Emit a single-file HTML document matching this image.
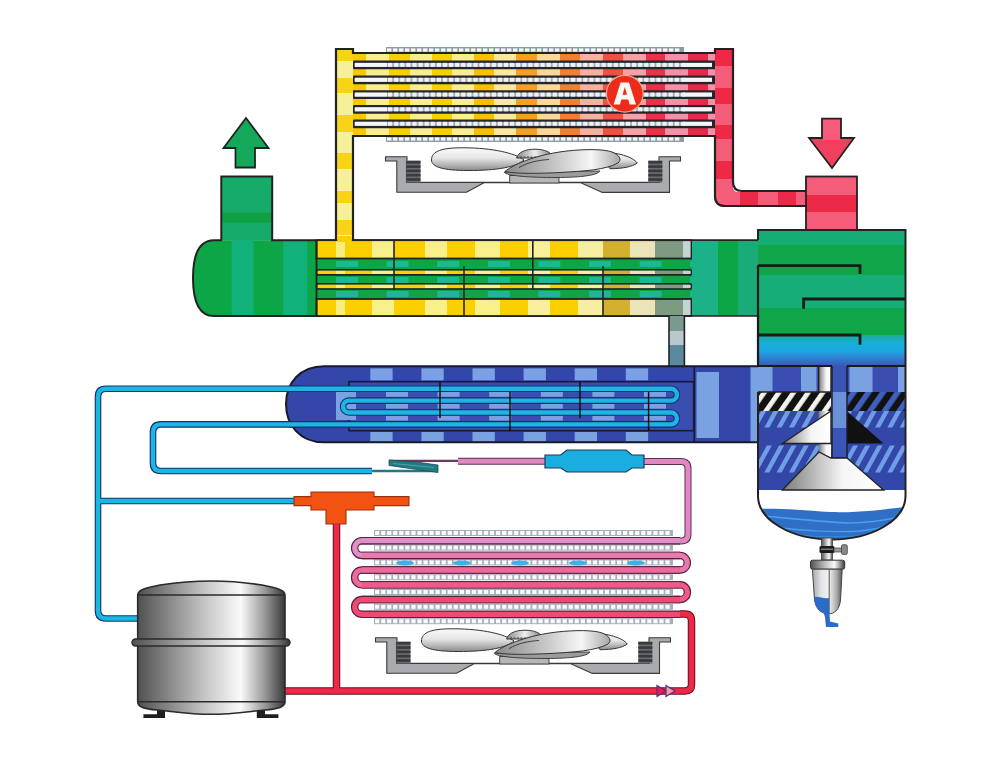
<!DOCTYPE html><html><head><meta charset="utf-8"><style>html,body{margin:0;padding:0;background:#fff;width:1000px;height:774px;overflow:hidden}svg{display:block;filter:blur(0.45px)}</style></head><body>
<svg width="1000" height="774" viewBox="0 0 1000 774">
<defs>
<linearGradient id="blade" x1="0" y1="0" x2="0" y2="1"><stop offset="0" stop-color="#fafafa"/><stop offset="0.45" stop-color="#e6e6e6"/><stop offset="1" stop-color="#8c8c8c"/></linearGradient>
<linearGradient id="blade2" x1="0" y1="0" x2="1" y2="0"><stop offset="0" stop-color="#8a8a8a"/><stop offset="0.45" stop-color="#c8c8c8"/><stop offset="0.75" stop-color="#f6f6f6"/><stop offset="1" stop-color="#a8a8a8"/></linearGradient>
<linearGradient id="hub" x1="0" y1="0" x2="1" y2="0"><stop offset="0" stop-color="#888"/><stop offset="0.5" stop-color="#eee"/><stop offset="1" stop-color="#777"/></linearGradient>
<linearGradient id="comp" x1="0" y1="0" x2="1" y2="0"><stop offset="0" stop-color="#505050"/><stop offset="0.15" stop-color="#787878"/><stop offset="0.45" stop-color="#c4c4c4"/><stop offset="0.7" stop-color="#fafafa"/><stop offset="0.86" stop-color="#9a9a9a"/><stop offset="1" stop-color="#383838"/></linearGradient>
<linearGradient id="bowl" x1="0" y1="0" x2="1" y2="0"><stop offset="0" stop-color="#a8a8ac"/><stop offset="0.3" stop-color="#e4e4e8"/><stop offset="0.55" stop-color="#f2f2f2"/><stop offset="0.8" stop-color="#b0b0b0"/><stop offset="1" stop-color="#5a5a5a"/></linearGradient>
<linearGradient id="cone" x1="0" y1="0" x2="1" y2="0"><stop offset="0" stop-color="#7a7a7a"/><stop offset="0.6" stop-color="#f6f6f6"/><stop offset="1" stop-color="#ffffff"/></linearGradient>
<linearGradient id="sepgrad" x1="0" y1="0" x2="0" y2="1"><stop offset="0" stop-color="#1ea898"/><stop offset="0.25" stop-color="#18b0d8"/><stop offset="0.5" stop-color="#1aa8e2"/><stop offset="0.75" stop-color="#3080d0"/><stop offset="1" stop-color="#3a58b6"/></linearGradient>
<pattern id="hatch" width="12" height="12" patternUnits="userSpaceOnUse" patternTransform="rotate(35)"><rect width="12" height="12" fill="#3347a8"/><rect width="4.5" height="12" fill="#6f9ee6"/></pattern>
<pattern id="hatchbw" width="12" height="12" patternUnits="userSpaceOnUse" patternTransform="translate(758 392) rotate(35)"><rect width="12" height="12" fill="#121212"/><rect x="3" width="4.8" height="12" fill="#f2f2ee"/></pattern>
<pattern id="hatchbb" width="12" height="12" patternUnits="userSpaceOnUse" patternTransform="translate(847 392) rotate(35)"><rect width="12" height="12" fill="#121212"/><rect x="3" width="5.5" height="12" fill="#4060c0"/></pattern>
</defs>
<rect x="353" y="53" width="13.4" height="83" fill="#f8c800"/>
<rect x="366" y="53" width="23.4" height="83" fill="#f8ee90"/>
<rect x="389" y="53" width="21.4" height="83" fill="#f8d000"/>
<rect x="410" y="53" width="22.4" height="83" fill="#f8ee90"/>
<rect x="432" y="53" width="20.4" height="83" fill="#f8d000"/>
<rect x="452" y="53" width="22.4" height="83" fill="#f8ee90"/>
<rect x="474" y="53" width="20.4" height="83" fill="#f8c000"/>
<rect x="494" y="53" width="22.4" height="83" fill="#fae8a0"/>
<rect x="516" y="53" width="21.4" height="83" fill="#f5a020"/>
<rect x="537" y="53" width="23.4" height="83" fill="#fcd898"/>
<rect x="560" y="53" width="20.4" height="83" fill="#f38030"/>
<rect x="580" y="53" width="23.4" height="83" fill="#f8b0a0"/>
<rect x="603" y="53" width="20.4" height="83" fill="#f05040"/>
<rect x="623" y="53" width="23.4" height="83" fill="#f8a0a8"/>
<rect x="646" y="53" width="19.4" height="83" fill="#ec3048"/>
<rect x="665" y="53" width="23.4" height="83" fill="#f590a8"/>
<rect x="688" y="53" width="20.4" height="83" fill="#e82848"/>
<rect x="708" y="53" width="7.9" height="83" fill="#f590a8"/>
<rect x="386" y="47" width="298" height="6" fill="#9098a0"/>
<rect x="387" y="48.4" width="4.4" height="3.2" fill="#f6f8fa"/>
<rect x="393" y="48.4" width="4.4" height="3.2" fill="#f6f8fa"/>
<rect x="399" y="48.4" width="4.4" height="3.2" fill="#f6f8fa"/>
<rect x="405" y="48.4" width="4.4" height="3.2" fill="#f6f8fa"/>
<rect x="411" y="48.4" width="4.4" height="3.2" fill="#f6f8fa"/>
<rect x="417" y="48.4" width="4.4" height="3.2" fill="#f6f8fa"/>
<rect x="423" y="48.4" width="4.4" height="3.2" fill="#f6f8fa"/>
<rect x="429" y="48.4" width="4.4" height="3.2" fill="#f6f8fa"/>
<rect x="435" y="48.4" width="4.4" height="3.2" fill="#f6f8fa"/>
<rect x="441" y="48.4" width="4.4" height="3.2" fill="#f6f8fa"/>
<rect x="447" y="48.4" width="4.4" height="3.2" fill="#f6f8fa"/>
<rect x="453" y="48.4" width="4.4" height="3.2" fill="#f6f8fa"/>
<rect x="459" y="48.4" width="4.4" height="3.2" fill="#f6f8fa"/>
<rect x="465" y="48.4" width="4.4" height="3.2" fill="#f6f8fa"/>
<rect x="471" y="48.4" width="4.4" height="3.2" fill="#f6f8fa"/>
<rect x="477" y="48.4" width="4.4" height="3.2" fill="#f6f8fa"/>
<rect x="483" y="48.4" width="4.4" height="3.2" fill="#f6f8fa"/>
<rect x="489" y="48.4" width="4.4" height="3.2" fill="#f6f8fa"/>
<rect x="495" y="48.4" width="4.4" height="3.2" fill="#f6f8fa"/>
<rect x="501" y="48.4" width="4.4" height="3.2" fill="#f6f8fa"/>
<rect x="507" y="48.4" width="4.4" height="3.2" fill="#f6f8fa"/>
<rect x="513" y="48.4" width="4.4" height="3.2" fill="#f6f8fa"/>
<rect x="519" y="48.4" width="4.4" height="3.2" fill="#f6f8fa"/>
<rect x="525" y="48.4" width="4.4" height="3.2" fill="#f6f8fa"/>
<rect x="531" y="48.4" width="4.4" height="3.2" fill="#f6f8fa"/>
<rect x="537" y="48.4" width="4.4" height="3.2" fill="#f6f8fa"/>
<rect x="543" y="48.4" width="4.4" height="3.2" fill="#f6f8fa"/>
<rect x="549" y="48.4" width="4.4" height="3.2" fill="#f6f8fa"/>
<rect x="555" y="48.4" width="4.4" height="3.2" fill="#f6f8fa"/>
<rect x="561" y="48.4" width="4.4" height="3.2" fill="#f6f8fa"/>
<rect x="567" y="48.4" width="4.4" height="3.2" fill="#f6f8fa"/>
<rect x="573" y="48.4" width="4.4" height="3.2" fill="#f6f8fa"/>
<rect x="579" y="48.4" width="4.4" height="3.2" fill="#f6f8fa"/>
<rect x="585" y="48.4" width="4.4" height="3.2" fill="#f6f8fa"/>
<rect x="591" y="48.4" width="4.4" height="3.2" fill="#f6f8fa"/>
<rect x="597" y="48.4" width="4.4" height="3.2" fill="#f6f8fa"/>
<rect x="603" y="48.4" width="4.4" height="3.2" fill="#f6f8fa"/>
<rect x="609" y="48.4" width="4.4" height="3.2" fill="#f6f8fa"/>
<rect x="615" y="48.4" width="4.4" height="3.2" fill="#f6f8fa"/>
<rect x="621" y="48.4" width="4.4" height="3.2" fill="#f6f8fa"/>
<rect x="627" y="48.4" width="4.4" height="3.2" fill="#f6f8fa"/>
<rect x="633" y="48.4" width="4.4" height="3.2" fill="#f6f8fa"/>
<rect x="639" y="48.4" width="4.4" height="3.2" fill="#f6f8fa"/>
<rect x="645" y="48.4" width="4.4" height="3.2" fill="#f6f8fa"/>
<rect x="651" y="48.4" width="4.4" height="3.2" fill="#f6f8fa"/>
<rect x="657" y="48.4" width="4.4" height="3.2" fill="#f6f8fa"/>
<rect x="663" y="48.4" width="4.4" height="3.2" fill="#f6f8fa"/>
<rect x="669" y="48.4" width="4.4" height="3.2" fill="#f6f8fa"/>
<rect x="675" y="48.4" width="4.4" height="3.2" fill="#f6f8fa"/>
<rect x="386" y="136" width="298" height="6" fill="#9098a0"/>
<rect x="387" y="137.4" width="4.4" height="3.2" fill="#f6f8fa"/>
<rect x="393" y="137.4" width="4.4" height="3.2" fill="#f6f8fa"/>
<rect x="399" y="137.4" width="4.4" height="3.2" fill="#f6f8fa"/>
<rect x="405" y="137.4" width="4.4" height="3.2" fill="#f6f8fa"/>
<rect x="411" y="137.4" width="4.4" height="3.2" fill="#f6f8fa"/>
<rect x="417" y="137.4" width="4.4" height="3.2" fill="#f6f8fa"/>
<rect x="423" y="137.4" width="4.4" height="3.2" fill="#f6f8fa"/>
<rect x="429" y="137.4" width="4.4" height="3.2" fill="#f6f8fa"/>
<rect x="435" y="137.4" width="4.4" height="3.2" fill="#f6f8fa"/>
<rect x="441" y="137.4" width="4.4" height="3.2" fill="#f6f8fa"/>
<rect x="447" y="137.4" width="4.4" height="3.2" fill="#f6f8fa"/>
<rect x="453" y="137.4" width="4.4" height="3.2" fill="#f6f8fa"/>
<rect x="459" y="137.4" width="4.4" height="3.2" fill="#f6f8fa"/>
<rect x="465" y="137.4" width="4.4" height="3.2" fill="#f6f8fa"/>
<rect x="471" y="137.4" width="4.4" height="3.2" fill="#f6f8fa"/>
<rect x="477" y="137.4" width="4.4" height="3.2" fill="#f6f8fa"/>
<rect x="483" y="137.4" width="4.4" height="3.2" fill="#f6f8fa"/>
<rect x="489" y="137.4" width="4.4" height="3.2" fill="#f6f8fa"/>
<rect x="495" y="137.4" width="4.4" height="3.2" fill="#f6f8fa"/>
<rect x="501" y="137.4" width="4.4" height="3.2" fill="#f6f8fa"/>
<rect x="507" y="137.4" width="4.4" height="3.2" fill="#f6f8fa"/>
<rect x="513" y="137.4" width="4.4" height="3.2" fill="#f6f8fa"/>
<rect x="519" y="137.4" width="4.4" height="3.2" fill="#f6f8fa"/>
<rect x="525" y="137.4" width="4.4" height="3.2" fill="#f6f8fa"/>
<rect x="531" y="137.4" width="4.4" height="3.2" fill="#f6f8fa"/>
<rect x="537" y="137.4" width="4.4" height="3.2" fill="#f6f8fa"/>
<rect x="543" y="137.4" width="4.4" height="3.2" fill="#f6f8fa"/>
<rect x="549" y="137.4" width="4.4" height="3.2" fill="#f6f8fa"/>
<rect x="555" y="137.4" width="4.4" height="3.2" fill="#f6f8fa"/>
<rect x="561" y="137.4" width="4.4" height="3.2" fill="#f6f8fa"/>
<rect x="567" y="137.4" width="4.4" height="3.2" fill="#f6f8fa"/>
<rect x="573" y="137.4" width="4.4" height="3.2" fill="#f6f8fa"/>
<rect x="579" y="137.4" width="4.4" height="3.2" fill="#f6f8fa"/>
<rect x="585" y="137.4" width="4.4" height="3.2" fill="#f6f8fa"/>
<rect x="591" y="137.4" width="4.4" height="3.2" fill="#f6f8fa"/>
<rect x="597" y="137.4" width="4.4" height="3.2" fill="#f6f8fa"/>
<rect x="603" y="137.4" width="4.4" height="3.2" fill="#f6f8fa"/>
<rect x="609" y="137.4" width="4.4" height="3.2" fill="#f6f8fa"/>
<rect x="615" y="137.4" width="4.4" height="3.2" fill="#f6f8fa"/>
<rect x="621" y="137.4" width="4.4" height="3.2" fill="#f6f8fa"/>
<rect x="627" y="137.4" width="4.4" height="3.2" fill="#f6f8fa"/>
<rect x="633" y="137.4" width="4.4" height="3.2" fill="#f6f8fa"/>
<rect x="639" y="137.4" width="4.4" height="3.2" fill="#f6f8fa"/>
<rect x="645" y="137.4" width="4.4" height="3.2" fill="#f6f8fa"/>
<rect x="651" y="137.4" width="4.4" height="3.2" fill="#f6f8fa"/>
<rect x="657" y="137.4" width="4.4" height="3.2" fill="#f6f8fa"/>
<rect x="663" y="137.4" width="4.4" height="3.2" fill="#f6f8fa"/>
<rect x="669" y="137.4" width="4.4" height="3.2" fill="#f6f8fa"/>
<rect x="675" y="137.4" width="4.4" height="3.2" fill="#f6f8fa"/>
<rect x="353" y="60.50000000000001" width="363" height="8.8" rx="1" fill="#26262a"/>
<rect x="354.5" y="62.900000000000006" width="357" height="4" fill="#a8b0b8"/>
<rect x="355" y="62.900000000000006" width="32" height="4" fill="#f4f6f8"/>
<rect x="388.0" y="62.900000000000006" width="4.2" height="4" fill="#eef2f6"/>
<rect x="394.1" y="62.900000000000006" width="4.2" height="4" fill="#eef2f6"/>
<rect x="400.2" y="62.900000000000006" width="4.2" height="4" fill="#eef2f6"/>
<rect x="406.3" y="62.900000000000006" width="4.2" height="4" fill="#eef2f6"/>
<rect x="412.4" y="62.900000000000006" width="4.2" height="4" fill="#eef2f6"/>
<rect x="418.5" y="62.900000000000006" width="4.2" height="4" fill="#eef2f6"/>
<rect x="424.6" y="62.900000000000006" width="4.2" height="4" fill="#eef2f6"/>
<rect x="430.7" y="62.900000000000006" width="4.2" height="4" fill="#eef2f6"/>
<rect x="436.8" y="62.900000000000006" width="4.2" height="4" fill="#eef2f6"/>
<rect x="442.9" y="62.900000000000006" width="4.2" height="4" fill="#eef2f6"/>
<rect x="449.0" y="62.900000000000006" width="4.2" height="4" fill="#eef2f6"/>
<rect x="455.1" y="62.900000000000006" width="4.2" height="4" fill="#eef2f6"/>
<rect x="461.2" y="62.900000000000006" width="4.2" height="4" fill="#eef2f6"/>
<rect x="467.3" y="62.900000000000006" width="4.2" height="4" fill="#eef2f6"/>
<rect x="473.4" y="62.900000000000006" width="4.2" height="4" fill="#eef2f6"/>
<rect x="479.5" y="62.900000000000006" width="4.2" height="4" fill="#eef2f6"/>
<rect x="485.6" y="62.900000000000006" width="4.2" height="4" fill="#eef2f6"/>
<rect x="491.7" y="62.900000000000006" width="4.2" height="4" fill="#eef2f6"/>
<rect x="497.8" y="62.900000000000006" width="4.2" height="4" fill="#eef2f6"/>
<rect x="503.9" y="62.900000000000006" width="4.2" height="4" fill="#eef2f6"/>
<rect x="510.0" y="62.900000000000006" width="4.2" height="4" fill="#eef2f6"/>
<rect x="516.1" y="62.900000000000006" width="4.2" height="4" fill="#eef2f6"/>
<rect x="522.2" y="62.900000000000006" width="4.2" height="4" fill="#eef2f6"/>
<rect x="528.3" y="62.900000000000006" width="4.2" height="4" fill="#eef2f6"/>
<rect x="534.4" y="62.900000000000006" width="4.2" height="4" fill="#eef2f6"/>
<rect x="540.5" y="62.900000000000006" width="4.2" height="4" fill="#eef2f6"/>
<rect x="546.6" y="62.900000000000006" width="4.2" height="4" fill="#eef2f6"/>
<rect x="552.7" y="62.900000000000006" width="4.2" height="4" fill="#eef2f6"/>
<rect x="558.8" y="62.900000000000006" width="4.2" height="4" fill="#eef2f6"/>
<rect x="564.9" y="62.900000000000006" width="4.2" height="4" fill="#eef2f6"/>
<rect x="571.0" y="62.900000000000006" width="4.2" height="4" fill="#eef2f6"/>
<rect x="577.1" y="62.900000000000006" width="4.2" height="4" fill="#eef2f6"/>
<rect x="583.2" y="62.900000000000006" width="4.2" height="4" fill="#eef2f6"/>
<rect x="589.3" y="62.900000000000006" width="4.2" height="4" fill="#eef2f6"/>
<rect x="595.4" y="62.900000000000006" width="4.2" height="4" fill="#eef2f6"/>
<rect x="601.5" y="62.900000000000006" width="4.2" height="4" fill="#eef2f6"/>
<rect x="607.6" y="62.900000000000006" width="4.2" height="4" fill="#eef2f6"/>
<rect x="613.7" y="62.900000000000006" width="4.2" height="4" fill="#eef2f6"/>
<rect x="619.8" y="62.900000000000006" width="4.2" height="4" fill="#eef2f6"/>
<rect x="625.9" y="62.900000000000006" width="4.2" height="4" fill="#eef2f6"/>
<rect x="632.0" y="62.900000000000006" width="4.2" height="4" fill="#eef2f6"/>
<rect x="638.1" y="62.900000000000006" width="4.2" height="4" fill="#eef2f6"/>
<rect x="644.2" y="62.900000000000006" width="4.2" height="4" fill="#eef2f6"/>
<rect x="650.3" y="62.900000000000006" width="4.2" height="4" fill="#eef2f6"/>
<rect x="656.4" y="62.900000000000006" width="4.2" height="4" fill="#eef2f6"/>
<rect x="662.5" y="62.900000000000006" width="4.2" height="4" fill="#eef2f6"/>
<rect x="668.6" y="62.900000000000006" width="4.2" height="4" fill="#eef2f6"/>
<rect x="674.7" y="62.900000000000006" width="4.2" height="4" fill="#eef2f6"/>
<rect x="680.8" y="62.900000000000006" width="4.2" height="4" fill="#eef2f6"/>
<rect x="683" y="62.900000000000006" width="29" height="4" fill="#f4f6f8"/>
<rect x="353" y="75.39999999999999" width="363" height="8.8" rx="1" fill="#26262a"/>
<rect x="354.5" y="77.8" width="357" height="4" fill="#a8b0b8"/>
<rect x="355" y="77.8" width="32" height="4" fill="#f4f6f8"/>
<rect x="388.0" y="77.8" width="4.2" height="4" fill="#eef2f6"/>
<rect x="394.1" y="77.8" width="4.2" height="4" fill="#eef2f6"/>
<rect x="400.2" y="77.8" width="4.2" height="4" fill="#eef2f6"/>
<rect x="406.3" y="77.8" width="4.2" height="4" fill="#eef2f6"/>
<rect x="412.4" y="77.8" width="4.2" height="4" fill="#eef2f6"/>
<rect x="418.5" y="77.8" width="4.2" height="4" fill="#eef2f6"/>
<rect x="424.6" y="77.8" width="4.2" height="4" fill="#eef2f6"/>
<rect x="430.7" y="77.8" width="4.2" height="4" fill="#eef2f6"/>
<rect x="436.8" y="77.8" width="4.2" height="4" fill="#eef2f6"/>
<rect x="442.9" y="77.8" width="4.2" height="4" fill="#eef2f6"/>
<rect x="449.0" y="77.8" width="4.2" height="4" fill="#eef2f6"/>
<rect x="455.1" y="77.8" width="4.2" height="4" fill="#eef2f6"/>
<rect x="461.2" y="77.8" width="4.2" height="4" fill="#eef2f6"/>
<rect x="467.3" y="77.8" width="4.2" height="4" fill="#eef2f6"/>
<rect x="473.4" y="77.8" width="4.2" height="4" fill="#eef2f6"/>
<rect x="479.5" y="77.8" width="4.2" height="4" fill="#eef2f6"/>
<rect x="485.6" y="77.8" width="4.2" height="4" fill="#eef2f6"/>
<rect x="491.7" y="77.8" width="4.2" height="4" fill="#eef2f6"/>
<rect x="497.8" y="77.8" width="4.2" height="4" fill="#eef2f6"/>
<rect x="503.9" y="77.8" width="4.2" height="4" fill="#eef2f6"/>
<rect x="510.0" y="77.8" width="4.2" height="4" fill="#eef2f6"/>
<rect x="516.1" y="77.8" width="4.2" height="4" fill="#eef2f6"/>
<rect x="522.2" y="77.8" width="4.2" height="4" fill="#eef2f6"/>
<rect x="528.3" y="77.8" width="4.2" height="4" fill="#eef2f6"/>
<rect x="534.4" y="77.8" width="4.2" height="4" fill="#eef2f6"/>
<rect x="540.5" y="77.8" width="4.2" height="4" fill="#eef2f6"/>
<rect x="546.6" y="77.8" width="4.2" height="4" fill="#eef2f6"/>
<rect x="552.7" y="77.8" width="4.2" height="4" fill="#eef2f6"/>
<rect x="558.8" y="77.8" width="4.2" height="4" fill="#eef2f6"/>
<rect x="564.9" y="77.8" width="4.2" height="4" fill="#eef2f6"/>
<rect x="571.0" y="77.8" width="4.2" height="4" fill="#eef2f6"/>
<rect x="577.1" y="77.8" width="4.2" height="4" fill="#eef2f6"/>
<rect x="583.2" y="77.8" width="4.2" height="4" fill="#eef2f6"/>
<rect x="589.3" y="77.8" width="4.2" height="4" fill="#eef2f6"/>
<rect x="595.4" y="77.8" width="4.2" height="4" fill="#eef2f6"/>
<rect x="601.5" y="77.8" width="4.2" height="4" fill="#eef2f6"/>
<rect x="607.6" y="77.8" width="4.2" height="4" fill="#eef2f6"/>
<rect x="613.7" y="77.8" width="4.2" height="4" fill="#eef2f6"/>
<rect x="619.8" y="77.8" width="4.2" height="4" fill="#eef2f6"/>
<rect x="625.9" y="77.8" width="4.2" height="4" fill="#eef2f6"/>
<rect x="632.0" y="77.8" width="4.2" height="4" fill="#eef2f6"/>
<rect x="638.1" y="77.8" width="4.2" height="4" fill="#eef2f6"/>
<rect x="644.2" y="77.8" width="4.2" height="4" fill="#eef2f6"/>
<rect x="650.3" y="77.8" width="4.2" height="4" fill="#eef2f6"/>
<rect x="656.4" y="77.8" width="4.2" height="4" fill="#eef2f6"/>
<rect x="662.5" y="77.8" width="4.2" height="4" fill="#eef2f6"/>
<rect x="668.6" y="77.8" width="4.2" height="4" fill="#eef2f6"/>
<rect x="674.7" y="77.8" width="4.2" height="4" fill="#eef2f6"/>
<rect x="680.8" y="77.8" width="4.2" height="4" fill="#eef2f6"/>
<rect x="683" y="77.8" width="29" height="4" fill="#f4f6f8"/>
<rect x="353" y="90.19999999999999" width="363" height="8.8" rx="1" fill="#26262a"/>
<rect x="354.5" y="92.6" width="357" height="4" fill="#a8b0b8"/>
<rect x="355" y="92.6" width="32" height="4" fill="#f4f6f8"/>
<rect x="388.0" y="92.6" width="4.2" height="4" fill="#eef2f6"/>
<rect x="394.1" y="92.6" width="4.2" height="4" fill="#eef2f6"/>
<rect x="400.2" y="92.6" width="4.2" height="4" fill="#eef2f6"/>
<rect x="406.3" y="92.6" width="4.2" height="4" fill="#eef2f6"/>
<rect x="412.4" y="92.6" width="4.2" height="4" fill="#eef2f6"/>
<rect x="418.5" y="92.6" width="4.2" height="4" fill="#eef2f6"/>
<rect x="424.6" y="92.6" width="4.2" height="4" fill="#eef2f6"/>
<rect x="430.7" y="92.6" width="4.2" height="4" fill="#eef2f6"/>
<rect x="436.8" y="92.6" width="4.2" height="4" fill="#eef2f6"/>
<rect x="442.9" y="92.6" width="4.2" height="4" fill="#eef2f6"/>
<rect x="449.0" y="92.6" width="4.2" height="4" fill="#eef2f6"/>
<rect x="455.1" y="92.6" width="4.2" height="4" fill="#eef2f6"/>
<rect x="461.2" y="92.6" width="4.2" height="4" fill="#eef2f6"/>
<rect x="467.3" y="92.6" width="4.2" height="4" fill="#eef2f6"/>
<rect x="473.4" y="92.6" width="4.2" height="4" fill="#eef2f6"/>
<rect x="479.5" y="92.6" width="4.2" height="4" fill="#eef2f6"/>
<rect x="485.6" y="92.6" width="4.2" height="4" fill="#eef2f6"/>
<rect x="491.7" y="92.6" width="4.2" height="4" fill="#eef2f6"/>
<rect x="497.8" y="92.6" width="4.2" height="4" fill="#eef2f6"/>
<rect x="503.9" y="92.6" width="4.2" height="4" fill="#eef2f6"/>
<rect x="510.0" y="92.6" width="4.2" height="4" fill="#eef2f6"/>
<rect x="516.1" y="92.6" width="4.2" height="4" fill="#eef2f6"/>
<rect x="522.2" y="92.6" width="4.2" height="4" fill="#eef2f6"/>
<rect x="528.3" y="92.6" width="4.2" height="4" fill="#eef2f6"/>
<rect x="534.4" y="92.6" width="4.2" height="4" fill="#eef2f6"/>
<rect x="540.5" y="92.6" width="4.2" height="4" fill="#eef2f6"/>
<rect x="546.6" y="92.6" width="4.2" height="4" fill="#eef2f6"/>
<rect x="552.7" y="92.6" width="4.2" height="4" fill="#eef2f6"/>
<rect x="558.8" y="92.6" width="4.2" height="4" fill="#eef2f6"/>
<rect x="564.9" y="92.6" width="4.2" height="4" fill="#eef2f6"/>
<rect x="571.0" y="92.6" width="4.2" height="4" fill="#eef2f6"/>
<rect x="577.1" y="92.6" width="4.2" height="4" fill="#eef2f6"/>
<rect x="583.2" y="92.6" width="4.2" height="4" fill="#eef2f6"/>
<rect x="589.3" y="92.6" width="4.2" height="4" fill="#eef2f6"/>
<rect x="595.4" y="92.6" width="4.2" height="4" fill="#eef2f6"/>
<rect x="601.5" y="92.6" width="4.2" height="4" fill="#eef2f6"/>
<rect x="607.6" y="92.6" width="4.2" height="4" fill="#eef2f6"/>
<rect x="613.7" y="92.6" width="4.2" height="4" fill="#eef2f6"/>
<rect x="619.8" y="92.6" width="4.2" height="4" fill="#eef2f6"/>
<rect x="625.9" y="92.6" width="4.2" height="4" fill="#eef2f6"/>
<rect x="632.0" y="92.6" width="4.2" height="4" fill="#eef2f6"/>
<rect x="638.1" y="92.6" width="4.2" height="4" fill="#eef2f6"/>
<rect x="644.2" y="92.6" width="4.2" height="4" fill="#eef2f6"/>
<rect x="650.3" y="92.6" width="4.2" height="4" fill="#eef2f6"/>
<rect x="656.4" y="92.6" width="4.2" height="4" fill="#eef2f6"/>
<rect x="662.5" y="92.6" width="4.2" height="4" fill="#eef2f6"/>
<rect x="668.6" y="92.6" width="4.2" height="4" fill="#eef2f6"/>
<rect x="674.7" y="92.6" width="4.2" height="4" fill="#eef2f6"/>
<rect x="680.8" y="92.6" width="4.2" height="4" fill="#eef2f6"/>
<rect x="683" y="92.6" width="29" height="4" fill="#f4f6f8"/>
<rect x="353" y="104.89999999999999" width="363" height="8.8" rx="1" fill="#26262a"/>
<rect x="354.5" y="107.3" width="357" height="4" fill="#a8b0b8"/>
<rect x="355" y="107.3" width="32" height="4" fill="#f4f6f8"/>
<rect x="388.0" y="107.3" width="4.2" height="4" fill="#eef2f6"/>
<rect x="394.1" y="107.3" width="4.2" height="4" fill="#eef2f6"/>
<rect x="400.2" y="107.3" width="4.2" height="4" fill="#eef2f6"/>
<rect x="406.3" y="107.3" width="4.2" height="4" fill="#eef2f6"/>
<rect x="412.4" y="107.3" width="4.2" height="4" fill="#eef2f6"/>
<rect x="418.5" y="107.3" width="4.2" height="4" fill="#eef2f6"/>
<rect x="424.6" y="107.3" width="4.2" height="4" fill="#eef2f6"/>
<rect x="430.7" y="107.3" width="4.2" height="4" fill="#eef2f6"/>
<rect x="436.8" y="107.3" width="4.2" height="4" fill="#eef2f6"/>
<rect x="442.9" y="107.3" width="4.2" height="4" fill="#eef2f6"/>
<rect x="449.0" y="107.3" width="4.2" height="4" fill="#eef2f6"/>
<rect x="455.1" y="107.3" width="4.2" height="4" fill="#eef2f6"/>
<rect x="461.2" y="107.3" width="4.2" height="4" fill="#eef2f6"/>
<rect x="467.3" y="107.3" width="4.2" height="4" fill="#eef2f6"/>
<rect x="473.4" y="107.3" width="4.2" height="4" fill="#eef2f6"/>
<rect x="479.5" y="107.3" width="4.2" height="4" fill="#eef2f6"/>
<rect x="485.6" y="107.3" width="4.2" height="4" fill="#eef2f6"/>
<rect x="491.7" y="107.3" width="4.2" height="4" fill="#eef2f6"/>
<rect x="497.8" y="107.3" width="4.2" height="4" fill="#eef2f6"/>
<rect x="503.9" y="107.3" width="4.2" height="4" fill="#eef2f6"/>
<rect x="510.0" y="107.3" width="4.2" height="4" fill="#eef2f6"/>
<rect x="516.1" y="107.3" width="4.2" height="4" fill="#eef2f6"/>
<rect x="522.2" y="107.3" width="4.2" height="4" fill="#eef2f6"/>
<rect x="528.3" y="107.3" width="4.2" height="4" fill="#eef2f6"/>
<rect x="534.4" y="107.3" width="4.2" height="4" fill="#eef2f6"/>
<rect x="540.5" y="107.3" width="4.2" height="4" fill="#eef2f6"/>
<rect x="546.6" y="107.3" width="4.2" height="4" fill="#eef2f6"/>
<rect x="552.7" y="107.3" width="4.2" height="4" fill="#eef2f6"/>
<rect x="558.8" y="107.3" width="4.2" height="4" fill="#eef2f6"/>
<rect x="564.9" y="107.3" width="4.2" height="4" fill="#eef2f6"/>
<rect x="571.0" y="107.3" width="4.2" height="4" fill="#eef2f6"/>
<rect x="577.1" y="107.3" width="4.2" height="4" fill="#eef2f6"/>
<rect x="583.2" y="107.3" width="4.2" height="4" fill="#eef2f6"/>
<rect x="589.3" y="107.3" width="4.2" height="4" fill="#eef2f6"/>
<rect x="595.4" y="107.3" width="4.2" height="4" fill="#eef2f6"/>
<rect x="601.5" y="107.3" width="4.2" height="4" fill="#eef2f6"/>
<rect x="607.6" y="107.3" width="4.2" height="4" fill="#eef2f6"/>
<rect x="613.7" y="107.3" width="4.2" height="4" fill="#eef2f6"/>
<rect x="619.8" y="107.3" width="4.2" height="4" fill="#eef2f6"/>
<rect x="625.9" y="107.3" width="4.2" height="4" fill="#eef2f6"/>
<rect x="632.0" y="107.3" width="4.2" height="4" fill="#eef2f6"/>
<rect x="638.1" y="107.3" width="4.2" height="4" fill="#eef2f6"/>
<rect x="644.2" y="107.3" width="4.2" height="4" fill="#eef2f6"/>
<rect x="650.3" y="107.3" width="4.2" height="4" fill="#eef2f6"/>
<rect x="656.4" y="107.3" width="4.2" height="4" fill="#eef2f6"/>
<rect x="662.5" y="107.3" width="4.2" height="4" fill="#eef2f6"/>
<rect x="668.6" y="107.3" width="4.2" height="4" fill="#eef2f6"/>
<rect x="674.7" y="107.3" width="4.2" height="4" fill="#eef2f6"/>
<rect x="680.8" y="107.3" width="4.2" height="4" fill="#eef2f6"/>
<rect x="683" y="107.3" width="29" height="4" fill="#f4f6f8"/>
<rect x="353" y="119.39999999999999" width="363" height="8.8" rx="1" fill="#26262a"/>
<rect x="354.5" y="121.8" width="357" height="4" fill="#a8b0b8"/>
<rect x="355" y="121.8" width="32" height="4" fill="#f4f6f8"/>
<rect x="388.0" y="121.8" width="4.2" height="4" fill="#eef2f6"/>
<rect x="394.1" y="121.8" width="4.2" height="4" fill="#eef2f6"/>
<rect x="400.2" y="121.8" width="4.2" height="4" fill="#eef2f6"/>
<rect x="406.3" y="121.8" width="4.2" height="4" fill="#eef2f6"/>
<rect x="412.4" y="121.8" width="4.2" height="4" fill="#eef2f6"/>
<rect x="418.5" y="121.8" width="4.2" height="4" fill="#eef2f6"/>
<rect x="424.6" y="121.8" width="4.2" height="4" fill="#eef2f6"/>
<rect x="430.7" y="121.8" width="4.2" height="4" fill="#eef2f6"/>
<rect x="436.8" y="121.8" width="4.2" height="4" fill="#eef2f6"/>
<rect x="442.9" y="121.8" width="4.2" height="4" fill="#eef2f6"/>
<rect x="449.0" y="121.8" width="4.2" height="4" fill="#eef2f6"/>
<rect x="455.1" y="121.8" width="4.2" height="4" fill="#eef2f6"/>
<rect x="461.2" y="121.8" width="4.2" height="4" fill="#eef2f6"/>
<rect x="467.3" y="121.8" width="4.2" height="4" fill="#eef2f6"/>
<rect x="473.4" y="121.8" width="4.2" height="4" fill="#eef2f6"/>
<rect x="479.5" y="121.8" width="4.2" height="4" fill="#eef2f6"/>
<rect x="485.6" y="121.8" width="4.2" height="4" fill="#eef2f6"/>
<rect x="491.7" y="121.8" width="4.2" height="4" fill="#eef2f6"/>
<rect x="497.8" y="121.8" width="4.2" height="4" fill="#eef2f6"/>
<rect x="503.9" y="121.8" width="4.2" height="4" fill="#eef2f6"/>
<rect x="510.0" y="121.8" width="4.2" height="4" fill="#eef2f6"/>
<rect x="516.1" y="121.8" width="4.2" height="4" fill="#eef2f6"/>
<rect x="522.2" y="121.8" width="4.2" height="4" fill="#eef2f6"/>
<rect x="528.3" y="121.8" width="4.2" height="4" fill="#eef2f6"/>
<rect x="534.4" y="121.8" width="4.2" height="4" fill="#eef2f6"/>
<rect x="540.5" y="121.8" width="4.2" height="4" fill="#eef2f6"/>
<rect x="546.6" y="121.8" width="4.2" height="4" fill="#eef2f6"/>
<rect x="552.7" y="121.8" width="4.2" height="4" fill="#eef2f6"/>
<rect x="558.8" y="121.8" width="4.2" height="4" fill="#eef2f6"/>
<rect x="564.9" y="121.8" width="4.2" height="4" fill="#eef2f6"/>
<rect x="571.0" y="121.8" width="4.2" height="4" fill="#eef2f6"/>
<rect x="577.1" y="121.8" width="4.2" height="4" fill="#eef2f6"/>
<rect x="583.2" y="121.8" width="4.2" height="4" fill="#eef2f6"/>
<rect x="589.3" y="121.8" width="4.2" height="4" fill="#eef2f6"/>
<rect x="595.4" y="121.8" width="4.2" height="4" fill="#eef2f6"/>
<rect x="601.5" y="121.8" width="4.2" height="4" fill="#eef2f6"/>
<rect x="607.6" y="121.8" width="4.2" height="4" fill="#eef2f6"/>
<rect x="613.7" y="121.8" width="4.2" height="4" fill="#eef2f6"/>
<rect x="619.8" y="121.8" width="4.2" height="4" fill="#eef2f6"/>
<rect x="625.9" y="121.8" width="4.2" height="4" fill="#eef2f6"/>
<rect x="632.0" y="121.8" width="4.2" height="4" fill="#eef2f6"/>
<rect x="638.1" y="121.8" width="4.2" height="4" fill="#eef2f6"/>
<rect x="644.2" y="121.8" width="4.2" height="4" fill="#eef2f6"/>
<rect x="650.3" y="121.8" width="4.2" height="4" fill="#eef2f6"/>
<rect x="656.4" y="121.8" width="4.2" height="4" fill="#eef2f6"/>
<rect x="662.5" y="121.8" width="4.2" height="4" fill="#eef2f6"/>
<rect x="668.6" y="121.8" width="4.2" height="4" fill="#eef2f6"/>
<rect x="674.7" y="121.8" width="4.2" height="4" fill="#eef2f6"/>
<rect x="680.8" y="121.8" width="4.2" height="4" fill="#eef2f6"/>
<rect x="683" y="121.8" width="29" height="4" fill="#f4f6f8"/>
<rect x="336" y="49.0" width="17" height="12.3" fill="#f8d418"/>
<rect x="336" y="61.0" width="17" height="17.3" fill="#f6f09a"/>
<rect x="336" y="78.0" width="17" height="15.3" fill="#f8d418"/>
<rect x="336" y="93.0" width="17" height="22.3" fill="#f6f09a"/>
<rect x="336" y="115.0" width="17" height="17.3" fill="#f8d418"/>
<rect x="336" y="132.0" width="17" height="21.3" fill="#f6f09a"/>
<rect x="336" y="153.0" width="17" height="16.3" fill="#f8d418"/>
<rect x="336" y="169.0" width="17" height="22.3" fill="#f6f09a"/>
<rect x="336" y="191.0" width="17" height="12.3" fill="#f8d418"/>
<rect x="336" y="203.0" width="17" height="17.3" fill="#f6f09a"/>
<rect x="336" y="220.0" width="17" height="15.3" fill="#f8d418"/>
<rect x="336" y="235.0" width="17" height="5.3" fill="#f6f09a"/>
<rect x="715" y="49.0" width="18" height="17.3" fill="#ec2a48"/>
<rect x="715" y="66.0" width="18" height="22.3" fill="#f45c7a"/>
<rect x="715" y="88.0" width="18" height="16.3" fill="#ec2a48"/>
<rect x="715" y="104.0" width="18" height="21.3" fill="#f45c7a"/>
<rect x="715" y="125.0" width="18" height="14.3" fill="#ec2a48"/>
<rect x="715" y="139.0" width="18" height="22.3" fill="#f45c7a"/>
<rect x="715" y="161.0" width="18" height="18.3" fill="#ec2a48"/>
<rect x="715" y="179.0" width="18" height="12.3" fill="#f45c7a"/>
<path d="M715 180 L715 196 Q715 206 725 206 L806 206 L806 192 L738 192 Q733 192 733 187 Z" fill="#f45c7a"/>
<rect x="740" y="192" width="18" height="14" fill="#ec2a48"/>
<rect x="778" y="192" width="18" height="14" fill="#ec2a48"/>
<path d="M336 240 L336 49 L353 49 L353 53 L715 53 L715 49 L733 49 L733 182 Q733 191 742 191 L806 191" fill="none" stroke="#222" stroke-width="2.2"/>
<path d="M353 240 L353 136 L715 136 L715 196 Q715 206 725 206 L806 206" fill="none" stroke="#222" stroke-width="2.2"/>
<circle cx="624.8" cy="93.7" r="19" fill="#f6a890"/>
<circle cx="624.8" cy="93.7" r="17.8" fill="#ee2a1a"/>
<path d="M613.6 104.5 L620.6 82.4 L629 82.4 L636 104.5 L629.6 104.5 L628.3 99.5 L621.3 99.5 L620 104.5 Z M622.6 94.8 L627 94.8 L624.8 87 Z" fill="#f8f8f0" fill-rule="evenodd"/>
<g transform="translate(0 0)">
<path d="M385.5 156.8 L407 156.8 L407 161 L406.5 161 L406.5 182.4 L659.5 182.4 L659.5 161 L659 161 L659 156.8 L680.5 156.8 L680.5 161 L669.5 161 L669.5 192.4 L602.4 192.4 L580.8 182.7 L484 182.7 L466.4 192.2 L396.8 192.2 L396.8 161 L385.5 161 Z" fill="#a9abaf" stroke="#3a3a3a" stroke-width="1.1" stroke-linejoin="round"/>
<rect x="406.5" y="160.5" width="14" height="22" fill="#6a6c70"/>
<rect x="406.5" y="161.0" width="14" height="2.6" fill="#3a3a3e"/>
<rect x="406.5" y="165.3" width="14" height="2.6" fill="#3a3a3e"/>
<rect x="406.5" y="169.6" width="14" height="2.6" fill="#3a3a3e"/>
<rect x="406.5" y="173.9" width="14" height="2.6" fill="#3a3a3e"/>
<rect x="406.5" y="178.2" width="14" height="2.6" fill="#3a3a3e"/>
<rect x="648.3" y="160.5" width="14" height="22" fill="#6a6c70"/>
<rect x="648.3" y="161.0" width="14" height="2.6" fill="#3a3a3e"/>
<rect x="648.3" y="165.3" width="14" height="2.6" fill="#3a3a3e"/>
<rect x="648.3" y="169.6" width="14" height="2.6" fill="#3a3a3e"/>
<rect x="648.3" y="173.9" width="14" height="2.6" fill="#3a3a3e"/>
<rect x="648.3" y="178.2" width="14" height="2.6" fill="#3a3a3e"/>
<rect x="509.7" y="175.5" width="49.3" height="7.5" fill="#b4b6b8" stroke="#3a3a3a" stroke-width="0.9"/>
<path d="M431.5 160 C431.5 151 442 147.5 465 147.8 C492 148 515 153 524 160 C516 167 498 170.5 468 170.5 C443 170.5 431.5 167 431.5 160 Z" fill="url(#blade)" stroke="#333" stroke-width="1"/>
<path d="M598 152 C618 152 633 157 637.3 163 C632 167 622 168.7 610 168.7 Z" fill="url(#blade)" stroke="#333" stroke-width="1"/>
<path d="M504 172 C506 176 530 177.5 556 177.5 C582 177.5 598 175 600 171 Z" fill="#9c9c9c" stroke="#333" stroke-width="0.9"/>
<path d="M516.6 158 C518 152 526 149.2 535 149.2 C544 149.2 552 152 553.4 158 Z" fill="url(#hub)" stroke="#333" stroke-width="1"/>
<path d="M520 157 L550 157" stroke="#444" stroke-width="1.2" stroke-dasharray="2 1.5"/>
<path d="M505 171.5 C515 163 540 154 567 151 C585 149 604 149 612 152 C620 155 622 160 618 163 C605 170 585 171 560 172.5 C540 173.5 515 174 505 171.5 Z" fill="url(#blade2)" stroke="#333" stroke-width="1"/>
<path d="M519 167.6 C528 162 540 160 549 159.5" fill="none" stroke="#333" stroke-width="0.9"/>
</g>
<path d="M246 118 L268.5 148 L255 148 L255 167.5 L235.5 167.5 L235.5 148 L223.5 148 Z" fill="#14a85a" stroke="#222" stroke-width="1.8" stroke-linejoin="miter"/>
<rect x="221.3" y="176.5" width="51" height="64" fill="#16ab68"/>
<rect x="221.3" y="212.7" width="51" height="10" fill="#0fa044"/>
<path d="M214 240.2 L316.5 240.2 L316.5 316 L214 316 C202 316 193 306 193 278 C193 250 202 240.2 214 240.2 Z" fill="#0ca646"/>
<rect x="231.6" y="240.2" width="22.0" height="75.8" fill="#12b07a"/>
<rect x="283.2" y="240.2" width="24.19999999999999" height="75.8" fill="#12b07a"/>
<path d="M221.3 240.2 L221.3 176.5 L272.2 176.5 L272.2 240.2 L316.5 240.2 M222 240.2 L214 240.2 C202 240.2 193 250 193 278 C193 306 202 316 214 316 L670 316" fill="none" stroke="#222" stroke-width="2"/>
<rect x="316.5" y="240" width="441.5" height="76" fill="#0ca646"/>
<rect x="336.0" y="261.0" width="22" height="6" fill="#1ab898"/>
<rect x="336.0" y="277.0" width="22" height="6" fill="#1ab898"/>
<rect x="336.0" y="291.0" width="22" height="6" fill="#1ab898"/>
<rect x="386.6" y="261.0" width="22" height="6" fill="#1ab898"/>
<rect x="386.6" y="277.0" width="22" height="6" fill="#1ab898"/>
<rect x="386.6" y="291.0" width="22" height="6" fill="#1ab898"/>
<rect x="437.2" y="261.0" width="22" height="6" fill="#1ab898"/>
<rect x="437.2" y="277.0" width="22" height="6" fill="#1ab898"/>
<rect x="437.2" y="291.0" width="22" height="6" fill="#1ab898"/>
<rect x="487.8" y="261.0" width="22" height="6" fill="#1ab898"/>
<rect x="487.8" y="277.0" width="22" height="6" fill="#1ab898"/>
<rect x="487.8" y="291.0" width="22" height="6" fill="#1ab898"/>
<rect x="538.4" y="261.0" width="22" height="6" fill="#1ab898"/>
<rect x="538.4" y="277.0" width="22" height="6" fill="#1ab898"/>
<rect x="538.4" y="291.0" width="22" height="6" fill="#1ab898"/>
<rect x="589.0" y="261.0" width="22" height="6" fill="#1ab898"/>
<rect x="589.0" y="277.0" width="22" height="6" fill="#1ab898"/>
<rect x="589.0" y="291.0" width="22" height="6" fill="#1ab898"/>
<rect x="639.6" y="261.0" width="22" height="6" fill="#1ab898"/>
<rect x="639.6" y="277.0" width="22" height="6" fill="#1ab898"/>
<rect x="639.6" y="291.0" width="22" height="6" fill="#1ab898"/>
<rect x="690.2" y="261.0" width="22" height="6" fill="#1ab898"/>
<rect x="690.2" y="277.0" width="22" height="6" fill="#1ab898"/>
<rect x="690.2" y="291.0" width="22" height="6" fill="#1ab898"/>
<rect x="316.5" y="240.2" width="19.9" height="18.30000000000001" fill="#fcd000"/>
<rect x="336" y="240.2" width="9.4" height="18.30000000000001" fill="#f8ee80"/>
<rect x="345" y="240.2" width="27.4" height="18.30000000000001" fill="#fcd000"/>
<rect x="372" y="240.2" width="22.4" height="18.30000000000001" fill="#f8f08a"/>
<rect x="394" y="240.2" width="31.4" height="18.30000000000001" fill="#fcd000"/>
<rect x="425" y="240.2" width="22.4" height="18.30000000000001" fill="#f8f08a"/>
<rect x="447" y="240.2" width="28.4" height="18.30000000000001" fill="#fcd000"/>
<rect x="475" y="240.2" width="25.4" height="18.30000000000001" fill="#f8f08a"/>
<rect x="500" y="240.2" width="28.4" height="18.30000000000001" fill="#fcd000"/>
<rect x="528" y="240.2" width="22.4" height="18.30000000000001" fill="#f8f09a"/>
<rect x="550" y="240.2" width="28.4" height="18.30000000000001" fill="#fcd000"/>
<rect x="578" y="240.2" width="25.4" height="18.30000000000001" fill="#f6eea0"/>
<rect x="603" y="240.2" width="27.4" height="18.30000000000001" fill="#d4b030"/>
<rect x="630" y="240.2" width="25.4" height="18.30000000000001" fill="#ece4b8"/>
<rect x="655" y="240.2" width="28.4" height="18.30000000000001" fill="#7e9a80"/>
<rect x="683" y="240.2" width="8.9" height="18.30000000000001" fill="#c4d4d4"/>
<rect x="316.5" y="240.2" width="375.0" height="18.30000000000001" fill="none" stroke="#222" stroke-width="1.8"/>
<rect x="316.5" y="299" width="19.9" height="17" fill="#fcd000"/>
<rect x="336" y="299" width="9.4" height="17" fill="#f8ee80"/>
<rect x="345" y="299" width="27.4" height="17" fill="#fcd000"/>
<rect x="372" y="299" width="22.4" height="17" fill="#f8f08a"/>
<rect x="394" y="299" width="31.4" height="17" fill="#fcd000"/>
<rect x="425" y="299" width="22.4" height="17" fill="#f8f08a"/>
<rect x="447" y="299" width="28.4" height="17" fill="#fcd000"/>
<rect x="475" y="299" width="25.4" height="17" fill="#f8f08a"/>
<rect x="500" y="299" width="28.4" height="17" fill="#fcd000"/>
<rect x="528" y="299" width="22.4" height="17" fill="#f8f09a"/>
<rect x="550" y="299" width="28.4" height="17" fill="#fcd000"/>
<rect x="578" y="299" width="25.4" height="17" fill="#f6eea0"/>
<rect x="603" y="299" width="27.4" height="17" fill="#d4b030"/>
<rect x="630" y="299" width="25.4" height="17" fill="#ece4b8"/>
<rect x="655" y="299" width="28.4" height="17" fill="#7e9a80"/>
<rect x="683" y="299" width="8.9" height="17" fill="#c4d4d4"/>
<rect x="316.5" y="299" width="375.0" height="17" fill="none" stroke="#222" stroke-width="1.8"/>
<rect x="316.5" y="270.3" width="19.9" height="4" fill="#fcd000"/>
<rect x="336" y="270.3" width="9.4" height="4" fill="#f8ee80"/>
<rect x="345" y="270.3" width="27.4" height="4" fill="#fcd000"/>
<rect x="372" y="270.3" width="22.4" height="4" fill="#f8f08a"/>
<rect x="394" y="270.3" width="31.4" height="4" fill="#fcd000"/>
<rect x="425" y="270.3" width="22.4" height="4" fill="#f8f08a"/>
<rect x="447" y="270.3" width="28.4" height="4" fill="#fcd000"/>
<rect x="475" y="270.3" width="25.4" height="4" fill="#f8f08a"/>
<rect x="500" y="270.3" width="28.4" height="4" fill="#fcd000"/>
<rect x="528" y="270.3" width="22.4" height="4" fill="#f8f09a"/>
<rect x="550" y="270.3" width="28.4" height="4" fill="#fcd000"/>
<rect x="578" y="270.3" width="25.4" height="4" fill="#f6eea0"/>
<rect x="603" y="270.3" width="27.4" height="4" fill="#d4b030"/>
<rect x="630" y="270.3" width="25.4" height="4" fill="#ece4b8"/>
<rect x="655" y="270.3" width="28.4" height="4" fill="#7e9a80"/>
<rect x="683" y="270.3" width="8.9" height="4" fill="#c4d4d4"/>
<rect x="316.5" y="269.7" width="375.0" height="5.2" rx="2" fill="none" stroke="#222" stroke-width="1.6"/>
<rect x="316.5" y="284.4" width="19.9" height="4" fill="#fcd000"/>
<rect x="336" y="284.4" width="9.4" height="4" fill="#f8ee80"/>
<rect x="345" y="284.4" width="27.4" height="4" fill="#fcd000"/>
<rect x="372" y="284.4" width="22.4" height="4" fill="#f8f08a"/>
<rect x="394" y="284.4" width="31.4" height="4" fill="#fcd000"/>
<rect x="425" y="284.4" width="22.4" height="4" fill="#f8f08a"/>
<rect x="447" y="284.4" width="28.4" height="4" fill="#fcd000"/>
<rect x="475" y="284.4" width="25.4" height="4" fill="#f8f08a"/>
<rect x="500" y="284.4" width="28.4" height="4" fill="#fcd000"/>
<rect x="528" y="284.4" width="22.4" height="4" fill="#f8f09a"/>
<rect x="550" y="284.4" width="28.4" height="4" fill="#fcd000"/>
<rect x="578" y="284.4" width="25.4" height="4" fill="#f6eea0"/>
<rect x="603" y="284.4" width="27.4" height="4" fill="#d4b030"/>
<rect x="630" y="284.4" width="25.4" height="4" fill="#ece4b8"/>
<rect x="655" y="284.4" width="28.4" height="4" fill="#7e9a80"/>
<rect x="683" y="284.4" width="8.9" height="4" fill="#c4d4d4"/>
<rect x="316.5" y="283.79999999999995" width="375.0" height="5.2" rx="2" fill="none" stroke="#222" stroke-width="1.6"/>
<line x1="394" y1="240" x2="394" y2="290" stroke="#222" stroke-width="1.6"/>
<line x1="464" y1="266" x2="464" y2="316" stroke="#222" stroke-width="1.6"/>
<line x1="532.8" y1="240" x2="532.8" y2="289" stroke="#222" stroke-width="1.6"/>
<line x1="603" y1="266" x2="603" y2="316" stroke="#222" stroke-width="1.6"/>
<rect x="692" y="240.4" width="26" height="75.6" fill="#1bb28a"/>
<rect x="718" y="240.4" width="20" height="75.6" fill="#0ca646"/>
<rect x="738" y="240.4" width="20" height="75.6" fill="#1aab78"/>
<rect x="337.2" y="236" width="14.6" height="6" fill="#f8d200"/>
<path d="M316.5 240.2 L336 240.2 M353 240.2 L758 240.2 M316.5 240.2 L316.5 316" stroke="#222" stroke-width="1.8" fill="none"/>
<rect x="669" y="316" width="15.4" height="50" fill="#7a9a90"/>
<rect x="669" y="331" width="15.4" height="14" fill="#b8c8cc"/>
<rect x="669" y="345" width="15.4" height="21" fill="#5a8aa0"/>
<path d="M669 316 L669 366 M684.4 316 L684.4 366 M684.4 316 L758 316" stroke="#222" stroke-width="1.6" fill="none"/>
<path d="M832 168 L809 138 L822 138 L822 118.6 L841 118.6 L841 138 L854 138 Z" fill="#f0405e"/>
<path d="M822 118.6 L841 118.6 L841 140 L822 140 Z" fill="#f45c7a"/>
<path d="M832 168 L809 138 L822 138 L822 118.6 L841 118.6 L841 138 L854 138 Z" fill="none" stroke="#222" stroke-width="1.8"/>
<rect x="806" y="176.5" width="51" height="53.5" fill="#f45c7a"/>
<rect x="806" y="195" width="51" height="17" fill="#ec2a48"/>
<rect x="806" y="176.5" width="51" height="53.5" fill="none" stroke="#222" stroke-width="1.8"/>
<path d="M324 366.3 L758 366.3 L758 442.3 L324 442.3 C300 442.3 286 425 286 404.3 C286 383 300 366.3 324 366.3 Z" fill="#3347a8"/>
<rect x="370.3" y="368.4" width="22.3" height="12" fill="#7aa2e2"/>
<rect x="370.3" y="432" width="22.3" height="9.5" fill="#7aa2e2"/>
<rect x="421.4" y="368.4" width="22.3" height="12" fill="#7aa2e2"/>
<rect x="421.4" y="432" width="22.3" height="9.5" fill="#7aa2e2"/>
<rect x="472.5" y="368.4" width="22.3" height="12" fill="#7aa2e2"/>
<rect x="472.5" y="432" width="22.3" height="9.5" fill="#7aa2e2"/>
<rect x="523.6" y="368.4" width="22.3" height="12" fill="#7aa2e2"/>
<rect x="523.6" y="432" width="22.3" height="9.5" fill="#7aa2e2"/>
<rect x="574.7" y="368.4" width="22.3" height="12" fill="#7aa2e2"/>
<rect x="574.7" y="432" width="22.3" height="9.5" fill="#7aa2e2"/>
<rect x="625.8" y="368.4" width="22.3" height="12" fill="#7aa2e2"/>
<rect x="625.8" y="432" width="22.3" height="9.5" fill="#7aa2e2"/>
<rect x="349" y="381.7" width="344.7" height="49" fill="#3a4db0" stroke="#1a1a2a" stroke-width="1.6"/>
<rect x="336" y="392" width="20" height="28" fill="#7aa2e2"/>
<rect x="386.0" y="391.8" width="22" height="5" fill="#7aa2e2"/>
<rect x="386.0" y="403.7" width="22" height="5" fill="#7aa2e2"/>
<rect x="386.0" y="415.6" width="22" height="5" fill="#7aa2e2"/>
<rect x="437.6" y="391.8" width="22" height="5" fill="#7aa2e2"/>
<rect x="437.6" y="403.7" width="22" height="5" fill="#7aa2e2"/>
<rect x="437.6" y="415.6" width="22" height="5" fill="#7aa2e2"/>
<rect x="489.2" y="391.8" width="22" height="5" fill="#7aa2e2"/>
<rect x="489.2" y="403.7" width="22" height="5" fill="#7aa2e2"/>
<rect x="489.2" y="415.6" width="22" height="5" fill="#7aa2e2"/>
<rect x="540.8" y="391.8" width="22" height="5" fill="#7aa2e2"/>
<rect x="540.8" y="403.7" width="22" height="5" fill="#7aa2e2"/>
<rect x="540.8" y="415.6" width="22" height="5" fill="#7aa2e2"/>
<rect x="592.4" y="391.8" width="22" height="5" fill="#7aa2e2"/>
<rect x="592.4" y="403.7" width="22" height="5" fill="#7aa2e2"/>
<rect x="592.4" y="415.6" width="22" height="5" fill="#7aa2e2"/>
<rect x="644.0" y="391.8" width="22" height="5" fill="#7aa2e2"/>
<rect x="644.0" y="403.7" width="22" height="5" fill="#7aa2e2"/>
<rect x="644.0" y="415.6" width="22" height="5" fill="#7aa2e2"/>
<rect x="696.5" y="372" width="22.5" height="66" fill="#7aa2e2"/>
<rect x="750.5" y="366.3" width="8" height="76" fill="#7aa2e2"/>
<path d="M290 388.7 L671 388.7 A5.95 5.95 0 0 1 671 400.6 L349 400.6 A5.95 5.95 0 0 0 349 412.5 L671 412.5 A5.95 5.95 0 0 1 671 424.4 L290 424.4" fill="none" stroke="#16306a" stroke-width="6.6"/>
<path d="M290 388.7 L671 388.7 A5.95 5.95 0 0 1 671 400.6 L349 400.6 A5.95 5.95 0 0 0 349 412.5 L671 412.5 A5.95 5.95 0 0 1 671 424.4 L290 424.4" fill="none" stroke="#1ab6e4" stroke-width="4.4"/>
<line x1="440" y1="381.7" x2="440" y2="418" stroke="#111" stroke-width="1.5"/>
<line x1="510" y1="392" x2="510" y2="430.7" stroke="#111" stroke-width="1.5"/>
<line x1="580" y1="381.7" x2="580" y2="418" stroke="#111" stroke-width="1.5"/>
<line x1="648.6" y1="392" x2="648.6" y2="430.7" stroke="#111" stroke-width="1.5"/>
<path d="M324 366.3 L758 366.3 M758 442.3 L324 442.3 C300 442.3 286 425 286 404.3 C286 383 300 366.3 324 366.3" fill="none" stroke="#1a1a2a" stroke-width="2"/>
<path d="M694.3 366.3 L694.3 442.3" stroke="#1a1a2a" stroke-width="1.6"/>
<rect x="758" y="230" width="147.5" height="105" fill="#17a860"/>
<rect x="758" y="230" width="147.5" height="15" fill="#16ad74"/>
<rect x="758" y="245" width="147.5" height="30" fill="#0fa64a"/>
<rect x="758" y="275" width="147.5" height="33" fill="#16ae76"/>
<rect x="758" y="308" width="147.5" height="27" fill="#0fa64a"/>
<rect x="758" y="335" width="147.5" height="31" fill="url(#sepgrad)"/>
<path d="M758 265.6 L860 265.6 L860 274 M905.5 299 L803.6 299 L803.6 308.8 M758 335 L860 335 L860 344.8" fill="none" stroke="#1a1a1a" stroke-width="2.8"/>
<path d="M758 366 L905.5 366 L905.5 496 A73.75 43.5 0 0 1 758 496 Z" fill="#ffffff"/>
<rect x="758" y="366" width="147.5" height="124" fill="#3347a8"/>
<clipPath id="sepclip"><rect x="758" y="366" width="147.5" height="124"/></clipPath>
<g clip-path="url(#sepclip)">
<path d="M752.0 427.5 L757.0 427.5 L766.1 411 L761.1 411 Z" fill="#6f9ee6"/>
<path d="M764.3 427.5 L769.3 427.5 L778.4 411 L773.4 411 Z" fill="#6f9ee6"/>
<path d="M776.6 427.5 L781.6 427.5 L790.7 411 L785.7 411 Z" fill="#6f9ee6"/>
<path d="M788.9 427.5 L793.9 427.5 L803.0 411 L798.0 411 Z" fill="#6f9ee6"/>
<path d="M801.2 427.5 L806.2 427.5 L815.3 411 L810.3 411 Z" fill="#6f9ee6"/>
<path d="M813.5 427.5 L818.5 427.5 L827.6 411 L822.6 411 Z" fill="#6f9ee6"/>
<path d="M825.8 427.5 L830.8 427.5 L839.9 411 L834.9 411 Z" fill="#6f9ee6"/>
<path d="M838.1 427.5 L843.1 427.5 L852.2 411 L847.2 411 Z" fill="#6f9ee6"/>
<path d="M850.4 427.5 L855.4 427.5 L864.5 411 L859.5 411 Z" fill="#6f9ee6"/>
<path d="M862.7 427.5 L867.7 427.5 L876.8 411 L871.8 411 Z" fill="#6f9ee6"/>
<path d="M875.0 427.5 L880.0 427.5 L889.1 411 L884.1 411 Z" fill="#6f9ee6"/>
<path d="M887.3 427.5 L892.3 427.5 L901.4 411 L896.4 411 Z" fill="#6f9ee6"/>
<path d="M899.6 427.5 L904.6 427.5 L913.7 411 L908.7 411 Z" fill="#6f9ee6"/>
<path d="M911.9 427.5 L916.9 427.5 L926.0 411 L921.0 411 Z" fill="#6f9ee6"/>
<path d="M752.0 472.5 L757.0 472.5 L771.9 445.5 L766.9 445.5 Z" fill="#6f9ee6"/>
<path d="M764.3 472.5 L769.3 472.5 L784.1 445.5 L779.1 445.5 Z" fill="#6f9ee6"/>
<path d="M776.6 472.5 L781.6 472.5 L796.5 445.5 L791.5 445.5 Z" fill="#6f9ee6"/>
<path d="M788.9 472.5 L793.9 472.5 L808.8 445.5 L803.8 445.5 Z" fill="#6f9ee6"/>
<path d="M801.2 472.5 L806.2 472.5 L821.1 445.5 L816.1 445.5 Z" fill="#6f9ee6"/>
<path d="M813.5 472.5 L818.5 472.5 L833.4 445.5 L828.4 445.5 Z" fill="#6f9ee6"/>
<path d="M825.8 472.5 L830.8 472.5 L845.6 445.5 L840.6 445.5 Z" fill="#6f9ee6"/>
<path d="M838.1 472.5 L843.1 472.5 L858.0 445.5 L853.0 445.5 Z" fill="#6f9ee6"/>
<path d="M850.4 472.5 L855.4 472.5 L870.2 445.5 L865.2 445.5 Z" fill="#6f9ee6"/>
<path d="M862.7 472.5 L867.7 472.5 L882.6 445.5 L877.6 445.5 Z" fill="#6f9ee6"/>
<path d="M875.0 472.5 L880.0 472.5 L894.9 445.5 L889.9 445.5 Z" fill="#6f9ee6"/>
<path d="M887.3 472.5 L892.3 472.5 L907.1 445.5 L902.1 445.5 Z" fill="#6f9ee6"/>
<path d="M899.6 472.5 L904.6 472.5 L919.5 445.5 L914.5 445.5 Z" fill="#6f9ee6"/>
<path d="M911.9 472.5 L916.9 472.5 L931.8 445.5 L926.8 445.5 Z" fill="#6f9ee6"/>
</g>
<rect x="758" y="366" width="147.5" height="26" fill="#3a4db0"/>
<rect x="758" y="366" width="14.5" height="26" fill="#7aa2e2"/>
<rect x="801" y="366" width="15.5" height="26" fill="#7aa2e2"/>
<rect x="849.5" y="366" width="23" height="26" fill="#7aa2e2"/>
<rect x="898" y="366" width="7.5" height="26" fill="#7aa2e2"/>
<rect x="847" y="392" width="58.5" height="19" fill="url(#hatchbb)"/>
<rect x="818.7" y="366" width="12.5" height="92" fill="url(#cone)"/>
<rect x="758" y="392" width="73" height="19" fill="url(#hatchbw)"/>
<rect x="832" y="366" width="15" height="92" fill="#3a55b8"/>
<rect x="832" y="392" width="15" height="36" fill="#6a90d8"/>
<path d="M832 366 L832 458 L847 458 L847 366" fill="none" stroke="#1a1a2a" stroke-width="1.4"/>
<path d="M782.4 443.5 L831 411 L831 443.5 Z" fill="url(#cone)" stroke="#222" stroke-width="1.3"/>
<path d="M847.3 411.5 L847.3 443.6 L883.6 443.6 Z" fill="#111"/>
<path d="M782.4 490 L819 452 L831 458 L847 458 L883.6 490 Z" fill="url(#cone)" stroke="#222" stroke-width="1.3"/>
<clipPath id="vesclip"><path d="M758 366 L905.5 366 L905.5 496 A73.75 43.5 0 0 1 758 496 Z"/></clipPath>
<g clip-path="url(#vesclip)">
<path d="M750 509 C780 508 800 510 830 512 C860 513 885 509 915 506 L915 560 L750 560 Z" fill="#2f6fc6"/>
<path d="M762 516 C790 518 820 522 850 523 C875 523 890 519 905 516" fill="none" stroke="#48a0e8" stroke-width="1.6"/>
<path d="M770 527 C800 530 830 533 860 531 C880 529 890 526 900 524" fill="none" stroke="#48a0e8" stroke-width="1.4"/>
<path d="M790 534 C815 537 840 538 870 535" fill="none" stroke="#3a88d8" stroke-width="1.2"/>
</g>
<path d="M758 392 L758 496 A73.75 43.5 0 0 0 905.5 496 L905.5 230 L758 230 L758 240" fill="none" stroke="#222" stroke-width="2"/>
<path d="M758 265.6 L758 366 L832 366 M847 366 L905.5 366" fill="none" stroke="#1a1a1a" stroke-width="2.2"/>
<path d="M818.7 366 L818.7 392 M831 366 L831 392 M758 392 L831 392" fill="none" stroke="#222" stroke-width="1.4"/>
<path d="M300 388.7 L106 388.7 Q98 388.7 98 396.7 L98 610.5 Q98 618.5 106 618.5 L138 618.5 M300 424.4 L161 424.4 Q153 424.4 153 432.4 L153 463 Q153 471 161 471 L372 471 M98 501 L294 501" fill="none" stroke="#16306a" stroke-width="6.6"/>
<path d="M300 388.7 L106 388.7 Q98 388.7 98 396.7 L98 610.5 Q98 618.5 106 618.5 L138 618.5 M300 424.4 L161 424.4 Q153 424.4 153 432.4 L153 463 Q153 471 161 471 L372 471 M98 501 L294 501" fill="none" stroke="#1ab6e4" stroke-width="4.4"/>
<path d="M389 460.8 L459 460.8" stroke="#6a3a60" stroke-width="2.2"/>
<path d="M372 471 L438 471" stroke="#247880" stroke-width="2.6"/>
<path d="M389 460 L389 465.5 L438 472.5 L438 465 L420 462.5 Z" fill="#247a80" stroke="#1a5058" stroke-width="0.8"/>
<path d="M393 463.5 L434 467.5" stroke="#40a8b0" stroke-width="1"/>
<path d="M458 461.3 L545 461.3" stroke="#5a3050" stroke-width="7"/>
<path d="M458 461.3 L545 461.3" stroke="#e088c0" stroke-width="5"/>
<path d="M545 461.5 L681 461.5 Q688 461.5 688 468.5 L688 534 Q688 541 681 541 L360 541" fill="none" stroke="#5a3050" stroke-width="7"/>
<path d="M545 461.5 L681 461.5 Q688 461.5 688 468.5 L688 534 Q688 541 681 541 L360 541" fill="none" stroke="#e088c0" stroke-width="5"/>
<path d="M545 455 L560.7 455 L567 450 L626 450 L632 455 L644 455 L644 468 L632 468 L626 472 L567 472 L560.7 468 L545 468 Z" fill="#1aaee0" stroke="#1a3a5a" stroke-width="1.2"/>
<path d="M294 496.6 L311 496.6 L311 492 L374 492 L374 496.6 L409 496.6 L409 505.6 L374 505.6 L374 510 L346 510 L346 524 L326 524 L326 510 L311 510 L311 505.6 L294 505.6 Z" fill="#f25212" stroke="#9a3010" stroke-width="1.1"/>
<path d="M336.5 524 L336.5 691 M285 691 L685 691 Q691.5 691 691.5 684.5 L691.5 621 Q691.5 614 685 614 L680 614" fill="none" stroke="#5a1020" stroke-width="7.5"/>
<path d="M336.5 524 L336.5 691 M285 691 L685 691 Q691.5 691 691.5 684.5 L691.5 621 Q691.5 614 685 614 L680 614" fill="none" stroke="#f02848" stroke-width="5.5"/>
<path d="M657 685.5 L666 691 L657 696.5 Z" fill="#e82040" stroke="#5a2a90" stroke-width="1.2"/>
<path d="M666 685.5 L675 691 L666 696.5 Z" fill="#f0a0a0" stroke="#5a2a90" stroke-width="1.2"/>
<rect x="374" y="530" width="299" height="6" fill="#a8aeb6"/>
<rect x="375.0" y="531" width="4.3" height="4" fill="#f8fafc"/>
<rect x="381.1" y="531" width="4.3" height="4" fill="#f8fafc"/>
<rect x="387.1" y="531" width="4.3" height="4" fill="#f8fafc"/>
<rect x="393.1" y="531" width="4.3" height="4" fill="#f8fafc"/>
<rect x="399.2" y="531" width="4.3" height="4" fill="#f8fafc"/>
<rect x="405.2" y="531" width="4.3" height="4" fill="#f8fafc"/>
<rect x="411.3" y="531" width="4.3" height="4" fill="#f8fafc"/>
<rect x="417.4" y="531" width="4.3" height="4" fill="#f8fafc"/>
<rect x="423.4" y="531" width="4.3" height="4" fill="#f8fafc"/>
<rect x="429.4" y="531" width="4.3" height="4" fill="#f8fafc"/>
<rect x="435.5" y="531" width="4.3" height="4" fill="#f8fafc"/>
<rect x="441.6" y="531" width="4.3" height="4" fill="#f8fafc"/>
<rect x="447.6" y="531" width="4.3" height="4" fill="#f8fafc"/>
<rect x="453.6" y="531" width="4.3" height="4" fill="#f8fafc"/>
<rect x="459.7" y="531" width="4.3" height="4" fill="#f8fafc"/>
<rect x="465.8" y="531" width="4.3" height="4" fill="#f8fafc"/>
<rect x="471.8" y="531" width="4.3" height="4" fill="#f8fafc"/>
<rect x="477.9" y="531" width="4.3" height="4" fill="#f8fafc"/>
<rect x="483.9" y="531" width="4.3" height="4" fill="#f8fafc"/>
<rect x="489.9" y="531" width="4.3" height="4" fill="#f8fafc"/>
<rect x="496.0" y="531" width="4.3" height="4" fill="#f8fafc"/>
<rect x="502.1" y="531" width="4.3" height="4" fill="#f8fafc"/>
<rect x="508.1" y="531" width="4.3" height="4" fill="#f8fafc"/>
<rect x="514.1" y="531" width="4.3" height="4" fill="#f8fafc"/>
<rect x="520.2" y="531" width="4.3" height="4" fill="#f8fafc"/>
<rect x="526.2" y="531" width="4.3" height="4" fill="#f8fafc"/>
<rect x="532.3" y="531" width="4.3" height="4" fill="#f8fafc"/>
<rect x="538.4" y="531" width="4.3" height="4" fill="#f8fafc"/>
<rect x="544.4" y="531" width="4.3" height="4" fill="#f8fafc"/>
<rect x="550.5" y="531" width="4.3" height="4" fill="#f8fafc"/>
<rect x="556.5" y="531" width="4.3" height="4" fill="#f8fafc"/>
<rect x="562.5" y="531" width="4.3" height="4" fill="#f8fafc"/>
<rect x="568.6" y="531" width="4.3" height="4" fill="#f8fafc"/>
<rect x="574.6" y="531" width="4.3" height="4" fill="#f8fafc"/>
<rect x="580.7" y="531" width="4.3" height="4" fill="#f8fafc"/>
<rect x="586.8" y="531" width="4.3" height="4" fill="#f8fafc"/>
<rect x="592.8" y="531" width="4.3" height="4" fill="#f8fafc"/>
<rect x="598.9" y="531" width="4.3" height="4" fill="#f8fafc"/>
<rect x="604.9" y="531" width="4.3" height="4" fill="#f8fafc"/>
<rect x="611.0" y="531" width="4.3" height="4" fill="#f8fafc"/>
<rect x="617.0" y="531" width="4.3" height="4" fill="#f8fafc"/>
<rect x="623.0" y="531" width="4.3" height="4" fill="#f8fafc"/>
<rect x="629.1" y="531" width="4.3" height="4" fill="#f8fafc"/>
<rect x="635.1" y="531" width="4.3" height="4" fill="#f8fafc"/>
<rect x="641.2" y="531" width="4.3" height="4" fill="#f8fafc"/>
<rect x="647.2" y="531" width="4.3" height="4" fill="#f8fafc"/>
<rect x="653.3" y="531" width="4.3" height="4" fill="#f8fafc"/>
<rect x="659.3" y="531" width="4.3" height="4" fill="#f8fafc"/>
<rect x="665.4" y="531" width="4.3" height="4" fill="#f8fafc"/>
<rect x="374" y="544.6" width="299" height="6" fill="#a8aeb6"/>
<rect x="375.0" y="545.6" width="4.3" height="4" fill="#f8fafc"/>
<rect x="381.1" y="545.6" width="4.3" height="4" fill="#f8fafc"/>
<rect x="387.1" y="545.6" width="4.3" height="4" fill="#f8fafc"/>
<rect x="393.1" y="545.6" width="4.3" height="4" fill="#f8fafc"/>
<rect x="399.2" y="545.6" width="4.3" height="4" fill="#f8fafc"/>
<rect x="405.2" y="545.6" width="4.3" height="4" fill="#f8fafc"/>
<rect x="411.3" y="545.6" width="4.3" height="4" fill="#f8fafc"/>
<rect x="417.4" y="545.6" width="4.3" height="4" fill="#f8fafc"/>
<rect x="423.4" y="545.6" width="4.3" height="4" fill="#f8fafc"/>
<rect x="429.4" y="545.6" width="4.3" height="4" fill="#f8fafc"/>
<rect x="435.5" y="545.6" width="4.3" height="4" fill="#f8fafc"/>
<rect x="441.6" y="545.6" width="4.3" height="4" fill="#f8fafc"/>
<rect x="447.6" y="545.6" width="4.3" height="4" fill="#f8fafc"/>
<rect x="453.6" y="545.6" width="4.3" height="4" fill="#f8fafc"/>
<rect x="459.7" y="545.6" width="4.3" height="4" fill="#f8fafc"/>
<rect x="465.8" y="545.6" width="4.3" height="4" fill="#f8fafc"/>
<rect x="471.8" y="545.6" width="4.3" height="4" fill="#f8fafc"/>
<rect x="477.9" y="545.6" width="4.3" height="4" fill="#f8fafc"/>
<rect x="483.9" y="545.6" width="4.3" height="4" fill="#f8fafc"/>
<rect x="489.9" y="545.6" width="4.3" height="4" fill="#f8fafc"/>
<rect x="496.0" y="545.6" width="4.3" height="4" fill="#f8fafc"/>
<rect x="502.1" y="545.6" width="4.3" height="4" fill="#f8fafc"/>
<rect x="508.1" y="545.6" width="4.3" height="4" fill="#f8fafc"/>
<rect x="514.1" y="545.6" width="4.3" height="4" fill="#f8fafc"/>
<rect x="520.2" y="545.6" width="4.3" height="4" fill="#f8fafc"/>
<rect x="526.2" y="545.6" width="4.3" height="4" fill="#f8fafc"/>
<rect x="532.3" y="545.6" width="4.3" height="4" fill="#f8fafc"/>
<rect x="538.4" y="545.6" width="4.3" height="4" fill="#f8fafc"/>
<rect x="544.4" y="545.6" width="4.3" height="4" fill="#f8fafc"/>
<rect x="550.5" y="545.6" width="4.3" height="4" fill="#f8fafc"/>
<rect x="556.5" y="545.6" width="4.3" height="4" fill="#f8fafc"/>
<rect x="562.5" y="545.6" width="4.3" height="4" fill="#f8fafc"/>
<rect x="568.6" y="545.6" width="4.3" height="4" fill="#f8fafc"/>
<rect x="574.6" y="545.6" width="4.3" height="4" fill="#f8fafc"/>
<rect x="580.7" y="545.6" width="4.3" height="4" fill="#f8fafc"/>
<rect x="586.8" y="545.6" width="4.3" height="4" fill="#f8fafc"/>
<rect x="592.8" y="545.6" width="4.3" height="4" fill="#f8fafc"/>
<rect x="598.9" y="545.6" width="4.3" height="4" fill="#f8fafc"/>
<rect x="604.9" y="545.6" width="4.3" height="4" fill="#f8fafc"/>
<rect x="611.0" y="545.6" width="4.3" height="4" fill="#f8fafc"/>
<rect x="617.0" y="545.6" width="4.3" height="4" fill="#f8fafc"/>
<rect x="623.0" y="545.6" width="4.3" height="4" fill="#f8fafc"/>
<rect x="629.1" y="545.6" width="4.3" height="4" fill="#f8fafc"/>
<rect x="635.1" y="545.6" width="4.3" height="4" fill="#f8fafc"/>
<rect x="641.2" y="545.6" width="4.3" height="4" fill="#f8fafc"/>
<rect x="647.2" y="545.6" width="4.3" height="4" fill="#f8fafc"/>
<rect x="653.3" y="545.6" width="4.3" height="4" fill="#f8fafc"/>
<rect x="659.3" y="545.6" width="4.3" height="4" fill="#f8fafc"/>
<rect x="665.4" y="545.6" width="4.3" height="4" fill="#f8fafc"/>
<rect x="374" y="559.4" width="299" height="6" fill="#a8aeb6"/>
<rect x="375.0" y="560.4" width="4.3" height="4" fill="#f8fafc"/>
<rect x="381.1" y="560.4" width="4.3" height="4" fill="#f8fafc"/>
<rect x="387.1" y="560.4" width="4.3" height="4" fill="#f8fafc"/>
<rect x="393.1" y="560.4" width="4.3" height="4" fill="#f8fafc"/>
<rect x="399.2" y="560.4" width="4.3" height="4" fill="#f8fafc"/>
<rect x="405.2" y="560.4" width="4.3" height="4" fill="#f8fafc"/>
<rect x="411.3" y="560.4" width="4.3" height="4" fill="#f8fafc"/>
<rect x="417.4" y="560.4" width="4.3" height="4" fill="#f8fafc"/>
<rect x="423.4" y="560.4" width="4.3" height="4" fill="#f8fafc"/>
<rect x="429.4" y="560.4" width="4.3" height="4" fill="#f8fafc"/>
<rect x="435.5" y="560.4" width="4.3" height="4" fill="#f8fafc"/>
<rect x="441.6" y="560.4" width="4.3" height="4" fill="#f8fafc"/>
<rect x="447.6" y="560.4" width="4.3" height="4" fill="#f8fafc"/>
<rect x="453.6" y="560.4" width="4.3" height="4" fill="#f8fafc"/>
<rect x="459.7" y="560.4" width="4.3" height="4" fill="#f8fafc"/>
<rect x="465.8" y="560.4" width="4.3" height="4" fill="#f8fafc"/>
<rect x="471.8" y="560.4" width="4.3" height="4" fill="#f8fafc"/>
<rect x="477.9" y="560.4" width="4.3" height="4" fill="#f8fafc"/>
<rect x="483.9" y="560.4" width="4.3" height="4" fill="#f8fafc"/>
<rect x="489.9" y="560.4" width="4.3" height="4" fill="#f8fafc"/>
<rect x="496.0" y="560.4" width="4.3" height="4" fill="#f8fafc"/>
<rect x="502.1" y="560.4" width="4.3" height="4" fill="#f8fafc"/>
<rect x="508.1" y="560.4" width="4.3" height="4" fill="#f8fafc"/>
<rect x="514.1" y="560.4" width="4.3" height="4" fill="#f8fafc"/>
<rect x="520.2" y="560.4" width="4.3" height="4" fill="#f8fafc"/>
<rect x="526.2" y="560.4" width="4.3" height="4" fill="#f8fafc"/>
<rect x="532.3" y="560.4" width="4.3" height="4" fill="#f8fafc"/>
<rect x="538.4" y="560.4" width="4.3" height="4" fill="#f8fafc"/>
<rect x="544.4" y="560.4" width="4.3" height="4" fill="#f8fafc"/>
<rect x="550.5" y="560.4" width="4.3" height="4" fill="#f8fafc"/>
<rect x="556.5" y="560.4" width="4.3" height="4" fill="#f8fafc"/>
<rect x="562.5" y="560.4" width="4.3" height="4" fill="#f8fafc"/>
<rect x="568.6" y="560.4" width="4.3" height="4" fill="#f8fafc"/>
<rect x="574.6" y="560.4" width="4.3" height="4" fill="#f8fafc"/>
<rect x="580.7" y="560.4" width="4.3" height="4" fill="#f8fafc"/>
<rect x="586.8" y="560.4" width="4.3" height="4" fill="#f8fafc"/>
<rect x="592.8" y="560.4" width="4.3" height="4" fill="#f8fafc"/>
<rect x="598.9" y="560.4" width="4.3" height="4" fill="#f8fafc"/>
<rect x="604.9" y="560.4" width="4.3" height="4" fill="#f8fafc"/>
<rect x="611.0" y="560.4" width="4.3" height="4" fill="#f8fafc"/>
<rect x="617.0" y="560.4" width="4.3" height="4" fill="#f8fafc"/>
<rect x="623.0" y="560.4" width="4.3" height="4" fill="#f8fafc"/>
<rect x="629.1" y="560.4" width="4.3" height="4" fill="#f8fafc"/>
<rect x="635.1" y="560.4" width="4.3" height="4" fill="#f8fafc"/>
<rect x="641.2" y="560.4" width="4.3" height="4" fill="#f8fafc"/>
<rect x="647.2" y="560.4" width="4.3" height="4" fill="#f8fafc"/>
<rect x="653.3" y="560.4" width="4.3" height="4" fill="#f8fafc"/>
<rect x="659.3" y="560.4" width="4.3" height="4" fill="#f8fafc"/>
<rect x="665.4" y="560.4" width="4.3" height="4" fill="#f8fafc"/>
<rect x="374" y="574.2" width="299" height="6" fill="#a8aeb6"/>
<rect x="375.0" y="575.2" width="4.3" height="4" fill="#f8fafc"/>
<rect x="381.1" y="575.2" width="4.3" height="4" fill="#f8fafc"/>
<rect x="387.1" y="575.2" width="4.3" height="4" fill="#f8fafc"/>
<rect x="393.1" y="575.2" width="4.3" height="4" fill="#f8fafc"/>
<rect x="399.2" y="575.2" width="4.3" height="4" fill="#f8fafc"/>
<rect x="405.2" y="575.2" width="4.3" height="4" fill="#f8fafc"/>
<rect x="411.3" y="575.2" width="4.3" height="4" fill="#f8fafc"/>
<rect x="417.4" y="575.2" width="4.3" height="4" fill="#f8fafc"/>
<rect x="423.4" y="575.2" width="4.3" height="4" fill="#f8fafc"/>
<rect x="429.4" y="575.2" width="4.3" height="4" fill="#f8fafc"/>
<rect x="435.5" y="575.2" width="4.3" height="4" fill="#f8fafc"/>
<rect x="441.6" y="575.2" width="4.3" height="4" fill="#f8fafc"/>
<rect x="447.6" y="575.2" width="4.3" height="4" fill="#f8fafc"/>
<rect x="453.6" y="575.2" width="4.3" height="4" fill="#f8fafc"/>
<rect x="459.7" y="575.2" width="4.3" height="4" fill="#f8fafc"/>
<rect x="465.8" y="575.2" width="4.3" height="4" fill="#f8fafc"/>
<rect x="471.8" y="575.2" width="4.3" height="4" fill="#f8fafc"/>
<rect x="477.9" y="575.2" width="4.3" height="4" fill="#f8fafc"/>
<rect x="483.9" y="575.2" width="4.3" height="4" fill="#f8fafc"/>
<rect x="489.9" y="575.2" width="4.3" height="4" fill="#f8fafc"/>
<rect x="496.0" y="575.2" width="4.3" height="4" fill="#f8fafc"/>
<rect x="502.1" y="575.2" width="4.3" height="4" fill="#f8fafc"/>
<rect x="508.1" y="575.2" width="4.3" height="4" fill="#f8fafc"/>
<rect x="514.1" y="575.2" width="4.3" height="4" fill="#f8fafc"/>
<rect x="520.2" y="575.2" width="4.3" height="4" fill="#f8fafc"/>
<rect x="526.2" y="575.2" width="4.3" height="4" fill="#f8fafc"/>
<rect x="532.3" y="575.2" width="4.3" height="4" fill="#f8fafc"/>
<rect x="538.4" y="575.2" width="4.3" height="4" fill="#f8fafc"/>
<rect x="544.4" y="575.2" width="4.3" height="4" fill="#f8fafc"/>
<rect x="550.5" y="575.2" width="4.3" height="4" fill="#f8fafc"/>
<rect x="556.5" y="575.2" width="4.3" height="4" fill="#f8fafc"/>
<rect x="562.5" y="575.2" width="4.3" height="4" fill="#f8fafc"/>
<rect x="568.6" y="575.2" width="4.3" height="4" fill="#f8fafc"/>
<rect x="574.6" y="575.2" width="4.3" height="4" fill="#f8fafc"/>
<rect x="580.7" y="575.2" width="4.3" height="4" fill="#f8fafc"/>
<rect x="586.8" y="575.2" width="4.3" height="4" fill="#f8fafc"/>
<rect x="592.8" y="575.2" width="4.3" height="4" fill="#f8fafc"/>
<rect x="598.9" y="575.2" width="4.3" height="4" fill="#f8fafc"/>
<rect x="604.9" y="575.2" width="4.3" height="4" fill="#f8fafc"/>
<rect x="611.0" y="575.2" width="4.3" height="4" fill="#f8fafc"/>
<rect x="617.0" y="575.2" width="4.3" height="4" fill="#f8fafc"/>
<rect x="623.0" y="575.2" width="4.3" height="4" fill="#f8fafc"/>
<rect x="629.1" y="575.2" width="4.3" height="4" fill="#f8fafc"/>
<rect x="635.1" y="575.2" width="4.3" height="4" fill="#f8fafc"/>
<rect x="641.2" y="575.2" width="4.3" height="4" fill="#f8fafc"/>
<rect x="647.2" y="575.2" width="4.3" height="4" fill="#f8fafc"/>
<rect x="653.3" y="575.2" width="4.3" height="4" fill="#f8fafc"/>
<rect x="659.3" y="575.2" width="4.3" height="4" fill="#f8fafc"/>
<rect x="665.4" y="575.2" width="4.3" height="4" fill="#f8fafc"/>
<rect x="374" y="589" width="299" height="6" fill="#a8aeb6"/>
<rect x="375.0" y="590" width="4.3" height="4" fill="#f8fafc"/>
<rect x="381.1" y="590" width="4.3" height="4" fill="#f8fafc"/>
<rect x="387.1" y="590" width="4.3" height="4" fill="#f8fafc"/>
<rect x="393.1" y="590" width="4.3" height="4" fill="#f8fafc"/>
<rect x="399.2" y="590" width="4.3" height="4" fill="#f8fafc"/>
<rect x="405.2" y="590" width="4.3" height="4" fill="#f8fafc"/>
<rect x="411.3" y="590" width="4.3" height="4" fill="#f8fafc"/>
<rect x="417.4" y="590" width="4.3" height="4" fill="#f8fafc"/>
<rect x="423.4" y="590" width="4.3" height="4" fill="#f8fafc"/>
<rect x="429.4" y="590" width="4.3" height="4" fill="#f8fafc"/>
<rect x="435.5" y="590" width="4.3" height="4" fill="#f8fafc"/>
<rect x="441.6" y="590" width="4.3" height="4" fill="#f8fafc"/>
<rect x="447.6" y="590" width="4.3" height="4" fill="#f8fafc"/>
<rect x="453.6" y="590" width="4.3" height="4" fill="#f8fafc"/>
<rect x="459.7" y="590" width="4.3" height="4" fill="#f8fafc"/>
<rect x="465.8" y="590" width="4.3" height="4" fill="#f8fafc"/>
<rect x="471.8" y="590" width="4.3" height="4" fill="#f8fafc"/>
<rect x="477.9" y="590" width="4.3" height="4" fill="#f8fafc"/>
<rect x="483.9" y="590" width="4.3" height="4" fill="#f8fafc"/>
<rect x="489.9" y="590" width="4.3" height="4" fill="#f8fafc"/>
<rect x="496.0" y="590" width="4.3" height="4" fill="#f8fafc"/>
<rect x="502.1" y="590" width="4.3" height="4" fill="#f8fafc"/>
<rect x="508.1" y="590" width="4.3" height="4" fill="#f8fafc"/>
<rect x="514.1" y="590" width="4.3" height="4" fill="#f8fafc"/>
<rect x="520.2" y="590" width="4.3" height="4" fill="#f8fafc"/>
<rect x="526.2" y="590" width="4.3" height="4" fill="#f8fafc"/>
<rect x="532.3" y="590" width="4.3" height="4" fill="#f8fafc"/>
<rect x="538.4" y="590" width="4.3" height="4" fill="#f8fafc"/>
<rect x="544.4" y="590" width="4.3" height="4" fill="#f8fafc"/>
<rect x="550.5" y="590" width="4.3" height="4" fill="#f8fafc"/>
<rect x="556.5" y="590" width="4.3" height="4" fill="#f8fafc"/>
<rect x="562.5" y="590" width="4.3" height="4" fill="#f8fafc"/>
<rect x="568.6" y="590" width="4.3" height="4" fill="#f8fafc"/>
<rect x="574.6" y="590" width="4.3" height="4" fill="#f8fafc"/>
<rect x="580.7" y="590" width="4.3" height="4" fill="#f8fafc"/>
<rect x="586.8" y="590" width="4.3" height="4" fill="#f8fafc"/>
<rect x="592.8" y="590" width="4.3" height="4" fill="#f8fafc"/>
<rect x="598.9" y="590" width="4.3" height="4" fill="#f8fafc"/>
<rect x="604.9" y="590" width="4.3" height="4" fill="#f8fafc"/>
<rect x="611.0" y="590" width="4.3" height="4" fill="#f8fafc"/>
<rect x="617.0" y="590" width="4.3" height="4" fill="#f8fafc"/>
<rect x="623.0" y="590" width="4.3" height="4" fill="#f8fafc"/>
<rect x="629.1" y="590" width="4.3" height="4" fill="#f8fafc"/>
<rect x="635.1" y="590" width="4.3" height="4" fill="#f8fafc"/>
<rect x="641.2" y="590" width="4.3" height="4" fill="#f8fafc"/>
<rect x="647.2" y="590" width="4.3" height="4" fill="#f8fafc"/>
<rect x="653.3" y="590" width="4.3" height="4" fill="#f8fafc"/>
<rect x="659.3" y="590" width="4.3" height="4" fill="#f8fafc"/>
<rect x="665.4" y="590" width="4.3" height="4" fill="#f8fafc"/>
<rect x="374" y="603.8" width="299" height="6" fill="#a8aeb6"/>
<rect x="375.0" y="604.8" width="4.3" height="4" fill="#f8fafc"/>
<rect x="381.1" y="604.8" width="4.3" height="4" fill="#f8fafc"/>
<rect x="387.1" y="604.8" width="4.3" height="4" fill="#f8fafc"/>
<rect x="393.1" y="604.8" width="4.3" height="4" fill="#f8fafc"/>
<rect x="399.2" y="604.8" width="4.3" height="4" fill="#f8fafc"/>
<rect x="405.2" y="604.8" width="4.3" height="4" fill="#f8fafc"/>
<rect x="411.3" y="604.8" width="4.3" height="4" fill="#f8fafc"/>
<rect x="417.4" y="604.8" width="4.3" height="4" fill="#f8fafc"/>
<rect x="423.4" y="604.8" width="4.3" height="4" fill="#f8fafc"/>
<rect x="429.4" y="604.8" width="4.3" height="4" fill="#f8fafc"/>
<rect x="435.5" y="604.8" width="4.3" height="4" fill="#f8fafc"/>
<rect x="441.6" y="604.8" width="4.3" height="4" fill="#f8fafc"/>
<rect x="447.6" y="604.8" width="4.3" height="4" fill="#f8fafc"/>
<rect x="453.6" y="604.8" width="4.3" height="4" fill="#f8fafc"/>
<rect x="459.7" y="604.8" width="4.3" height="4" fill="#f8fafc"/>
<rect x="465.8" y="604.8" width="4.3" height="4" fill="#f8fafc"/>
<rect x="471.8" y="604.8" width="4.3" height="4" fill="#f8fafc"/>
<rect x="477.9" y="604.8" width="4.3" height="4" fill="#f8fafc"/>
<rect x="483.9" y="604.8" width="4.3" height="4" fill="#f8fafc"/>
<rect x="489.9" y="604.8" width="4.3" height="4" fill="#f8fafc"/>
<rect x="496.0" y="604.8" width="4.3" height="4" fill="#f8fafc"/>
<rect x="502.1" y="604.8" width="4.3" height="4" fill="#f8fafc"/>
<rect x="508.1" y="604.8" width="4.3" height="4" fill="#f8fafc"/>
<rect x="514.1" y="604.8" width="4.3" height="4" fill="#f8fafc"/>
<rect x="520.2" y="604.8" width="4.3" height="4" fill="#f8fafc"/>
<rect x="526.2" y="604.8" width="4.3" height="4" fill="#f8fafc"/>
<rect x="532.3" y="604.8" width="4.3" height="4" fill="#f8fafc"/>
<rect x="538.4" y="604.8" width="4.3" height="4" fill="#f8fafc"/>
<rect x="544.4" y="604.8" width="4.3" height="4" fill="#f8fafc"/>
<rect x="550.5" y="604.8" width="4.3" height="4" fill="#f8fafc"/>
<rect x="556.5" y="604.8" width="4.3" height="4" fill="#f8fafc"/>
<rect x="562.5" y="604.8" width="4.3" height="4" fill="#f8fafc"/>
<rect x="568.6" y="604.8" width="4.3" height="4" fill="#f8fafc"/>
<rect x="574.6" y="604.8" width="4.3" height="4" fill="#f8fafc"/>
<rect x="580.7" y="604.8" width="4.3" height="4" fill="#f8fafc"/>
<rect x="586.8" y="604.8" width="4.3" height="4" fill="#f8fafc"/>
<rect x="592.8" y="604.8" width="4.3" height="4" fill="#f8fafc"/>
<rect x="598.9" y="604.8" width="4.3" height="4" fill="#f8fafc"/>
<rect x="604.9" y="604.8" width="4.3" height="4" fill="#f8fafc"/>
<rect x="611.0" y="604.8" width="4.3" height="4" fill="#f8fafc"/>
<rect x="617.0" y="604.8" width="4.3" height="4" fill="#f8fafc"/>
<rect x="623.0" y="604.8" width="4.3" height="4" fill="#f8fafc"/>
<rect x="629.1" y="604.8" width="4.3" height="4" fill="#f8fafc"/>
<rect x="635.1" y="604.8" width="4.3" height="4" fill="#f8fafc"/>
<rect x="641.2" y="604.8" width="4.3" height="4" fill="#f8fafc"/>
<rect x="647.2" y="604.8" width="4.3" height="4" fill="#f8fafc"/>
<rect x="653.3" y="604.8" width="4.3" height="4" fill="#f8fafc"/>
<rect x="659.3" y="604.8" width="4.3" height="4" fill="#f8fafc"/>
<rect x="665.4" y="604.8" width="4.3" height="4" fill="#f8fafc"/>
<rect x="374" y="618.2" width="299" height="6" fill="#a8aeb6"/>
<rect x="375.0" y="619.2" width="4.3" height="4" fill="#f8fafc"/>
<rect x="381.1" y="619.2" width="4.3" height="4" fill="#f8fafc"/>
<rect x="387.1" y="619.2" width="4.3" height="4" fill="#f8fafc"/>
<rect x="393.1" y="619.2" width="4.3" height="4" fill="#f8fafc"/>
<rect x="399.2" y="619.2" width="4.3" height="4" fill="#f8fafc"/>
<rect x="405.2" y="619.2" width="4.3" height="4" fill="#f8fafc"/>
<rect x="411.3" y="619.2" width="4.3" height="4" fill="#f8fafc"/>
<rect x="417.4" y="619.2" width="4.3" height="4" fill="#f8fafc"/>
<rect x="423.4" y="619.2" width="4.3" height="4" fill="#f8fafc"/>
<rect x="429.4" y="619.2" width="4.3" height="4" fill="#f8fafc"/>
<rect x="435.5" y="619.2" width="4.3" height="4" fill="#f8fafc"/>
<rect x="441.6" y="619.2" width="4.3" height="4" fill="#f8fafc"/>
<rect x="447.6" y="619.2" width="4.3" height="4" fill="#f8fafc"/>
<rect x="453.6" y="619.2" width="4.3" height="4" fill="#f8fafc"/>
<rect x="459.7" y="619.2" width="4.3" height="4" fill="#f8fafc"/>
<rect x="465.8" y="619.2" width="4.3" height="4" fill="#f8fafc"/>
<rect x="471.8" y="619.2" width="4.3" height="4" fill="#f8fafc"/>
<rect x="477.9" y="619.2" width="4.3" height="4" fill="#f8fafc"/>
<rect x="483.9" y="619.2" width="4.3" height="4" fill="#f8fafc"/>
<rect x="489.9" y="619.2" width="4.3" height="4" fill="#f8fafc"/>
<rect x="496.0" y="619.2" width="4.3" height="4" fill="#f8fafc"/>
<rect x="502.1" y="619.2" width="4.3" height="4" fill="#f8fafc"/>
<rect x="508.1" y="619.2" width="4.3" height="4" fill="#f8fafc"/>
<rect x="514.1" y="619.2" width="4.3" height="4" fill="#f8fafc"/>
<rect x="520.2" y="619.2" width="4.3" height="4" fill="#f8fafc"/>
<rect x="526.2" y="619.2" width="4.3" height="4" fill="#f8fafc"/>
<rect x="532.3" y="619.2" width="4.3" height="4" fill="#f8fafc"/>
<rect x="538.4" y="619.2" width="4.3" height="4" fill="#f8fafc"/>
<rect x="544.4" y="619.2" width="4.3" height="4" fill="#f8fafc"/>
<rect x="550.5" y="619.2" width="4.3" height="4" fill="#f8fafc"/>
<rect x="556.5" y="619.2" width="4.3" height="4" fill="#f8fafc"/>
<rect x="562.5" y="619.2" width="4.3" height="4" fill="#f8fafc"/>
<rect x="568.6" y="619.2" width="4.3" height="4" fill="#f8fafc"/>
<rect x="574.6" y="619.2" width="4.3" height="4" fill="#f8fafc"/>
<rect x="580.7" y="619.2" width="4.3" height="4" fill="#f8fafc"/>
<rect x="586.8" y="619.2" width="4.3" height="4" fill="#f8fafc"/>
<rect x="592.8" y="619.2" width="4.3" height="4" fill="#f8fafc"/>
<rect x="598.9" y="619.2" width="4.3" height="4" fill="#f8fafc"/>
<rect x="604.9" y="619.2" width="4.3" height="4" fill="#f8fafc"/>
<rect x="611.0" y="619.2" width="4.3" height="4" fill="#f8fafc"/>
<rect x="617.0" y="619.2" width="4.3" height="4" fill="#f8fafc"/>
<rect x="623.0" y="619.2" width="4.3" height="4" fill="#f8fafc"/>
<rect x="629.1" y="619.2" width="4.3" height="4" fill="#f8fafc"/>
<rect x="635.1" y="619.2" width="4.3" height="4" fill="#f8fafc"/>
<rect x="641.2" y="619.2" width="4.3" height="4" fill="#f8fafc"/>
<rect x="647.2" y="619.2" width="4.3" height="4" fill="#f8fafc"/>
<rect x="653.3" y="619.2" width="4.3" height="4" fill="#f8fafc"/>
<rect x="659.3" y="619.2" width="4.3" height="4" fill="#f8fafc"/>
<rect x="665.4" y="619.2" width="4.3" height="4" fill="#f8fafc"/>
<path d="M680 540.7 L362 540.7 A7.349999999999966 7.349999999999966 0 0 0 362 555.4 L680 555.4" fill="none" stroke="#5a2040" stroke-width="7.5"/>
<path d="M362 555.4 L680 555.4 A7.300000000000011 7.300000000000011 0 0 1 680 570 L362 570" fill="none" stroke="#5a2040" stroke-width="7.5"/>
<path d="M680 570 L362 570 A7.399999999999977 7.399999999999977 0 0 0 362 584.8 L680 584.8" fill="none" stroke="#5a2040" stroke-width="7.5"/>
<path d="M362 584.8 L680 584.8 A7.400000000000034 7.400000000000034 0 0 1 680 599.6 L362 599.6" fill="none" stroke="#5a2040" stroke-width="7.5"/>
<path d="M680 599.6 L362 599.6 A7.349999999999966 7.349999999999966 0 0 0 362 614.3 L680 614.3" fill="none" stroke="#5a2040" stroke-width="7.5"/>
<path d="M680 540.7 L362 540.7 A7.349999999999966 7.349999999999966 0 0 0 362 555.4 L680 555.4" fill="none" stroke="#e090c8" stroke-width="5.2"/>
<path d="M362 555.4 L680 555.4 A7.300000000000011 7.300000000000011 0 0 1 680 570 L362 570" fill="none" stroke="#e87ab0" stroke-width="5.2"/>
<path d="M680 570 L362 570 A7.399999999999977 7.399999999999977 0 0 0 362 584.8 L680 584.8" fill="none" stroke="#ee6a9a" stroke-width="5.2"/>
<path d="M362 584.8 L680 584.8 A7.400000000000034 7.400000000000034 0 0 1 680 599.6 L362 599.6" fill="none" stroke="#f05a88" stroke-width="5.2"/>
<path d="M680 599.6 L362 599.6 A7.349999999999966 7.349999999999966 0 0 0 362 614.3 L680 614.3" fill="none" stroke="#ee4a72" stroke-width="5.2"/>
<ellipse cx="405" cy="563" rx="9" ry="2.5" fill="#40b0e8"/>
<ellipse cx="462" cy="563" rx="9" ry="2.5" fill="#40b0e8"/>
<ellipse cx="520" cy="563" rx="9" ry="2.5" fill="#40b0e8"/>
<ellipse cx="578" cy="563" rx="9" ry="2.5" fill="#40b0e8"/>
<ellipse cx="636" cy="563" rx="9" ry="2.5" fill="#40b0e8"/>
<g transform="translate(-10 481)">
<path d="M385.5 156.8 L407 156.8 L407 161 L406.5 161 L406.5 182.4 L659.5 182.4 L659.5 161 L659 161 L659 156.8 L680.5 156.8 L680.5 161 L669.5 161 L669.5 192.4 L602.4 192.4 L580.8 182.7 L484 182.7 L466.4 192.2 L396.8 192.2 L396.8 161 L385.5 161 Z" fill="#a9abaf" stroke="#3a3a3a" stroke-width="1.1" stroke-linejoin="round"/>
<rect x="406.5" y="160.5" width="14" height="22" fill="#6a6c70"/>
<rect x="406.5" y="161.0" width="14" height="2.6" fill="#3a3a3e"/>
<rect x="406.5" y="165.3" width="14" height="2.6" fill="#3a3a3e"/>
<rect x="406.5" y="169.6" width="14" height="2.6" fill="#3a3a3e"/>
<rect x="406.5" y="173.9" width="14" height="2.6" fill="#3a3a3e"/>
<rect x="406.5" y="178.2" width="14" height="2.6" fill="#3a3a3e"/>
<rect x="648.3" y="160.5" width="14" height="22" fill="#6a6c70"/>
<rect x="648.3" y="161.0" width="14" height="2.6" fill="#3a3a3e"/>
<rect x="648.3" y="165.3" width="14" height="2.6" fill="#3a3a3e"/>
<rect x="648.3" y="169.6" width="14" height="2.6" fill="#3a3a3e"/>
<rect x="648.3" y="173.9" width="14" height="2.6" fill="#3a3a3e"/>
<rect x="648.3" y="178.2" width="14" height="2.6" fill="#3a3a3e"/>
<rect x="509.7" y="175.5" width="49.3" height="7.5" fill="#b4b6b8" stroke="#3a3a3a" stroke-width="0.9"/>
<path d="M431.5 160 C431.5 151 442 147.5 465 147.8 C492 148 515 153 524 160 C516 167 498 170.5 468 170.5 C443 170.5 431.5 167 431.5 160 Z" fill="url(#blade)" stroke="#333" stroke-width="1"/>
<path d="M598 152 C618 152 633 157 637.3 163 C632 167 622 168.7 610 168.7 Z" fill="url(#blade)" stroke="#333" stroke-width="1"/>
<path d="M504 172 C506 176 530 177.5 556 177.5 C582 177.5 598 175 600 171 Z" fill="#9c9c9c" stroke="#333" stroke-width="0.9"/>
<path d="M516.6 158 C518 152 526 149.2 535 149.2 C544 149.2 552 152 553.4 158 Z" fill="url(#hub)" stroke="#333" stroke-width="1"/>
<path d="M520 157 L550 157" stroke="#444" stroke-width="1.2" stroke-dasharray="2 1.5"/>
<path d="M505 171.5 C515 163 540 154 567 151 C585 149 604 149 612 152 C620 155 622 160 618 163 C605 170 585 171 560 172.5 C540 173.5 515 174 505 171.5 Z" fill="url(#blade2)" stroke="#333" stroke-width="1"/>
<path d="M519 167.6 C528 162 540 160 549 159.5" fill="none" stroke="#333" stroke-width="0.9"/>
</g>
<path d="M143.4 714.3 L165 714.3 L165 718 L143.4 718 Z M157 709 L165 709 L165 718 L157 718 Z M256.8 714.3 L278.4 714.3 L278.4 718 L256.8 718 Z M256.8 709 L265 709 L265 718 L256.8 718 Z" fill="#1e1e1e"/>
<path d="M137.7 595 C138 590 145 588 160 585 C180 582 195 581 211 581 C227 581 242 582 262 585 C277 588 284.7 590 285 595 L285 701.7 C285 707 278 709 265 710 C245 712 230 714.3 211 714.3 C192 714.3 177 712 157 710 C144 709 137.7 707 137.7 701.7 Z" fill="url(#comp)" stroke="#2a2a2a" stroke-width="1.6"/>
<path d="M137.7 595 L285 595 M137.7 701.7 L285 701.7" stroke="#2a2a2a" stroke-width="1.6"/>
<rect x="132" y="639" width="158" height="7" rx="3.5" fill="url(#comp)" stroke="#2a2a2a" stroke-width="1.4"/>
<rect x="821.5" y="538" width="11" height="22" fill="url(#comp)" stroke="#444" stroke-width="0.8"/>
<rect x="819.5" y="546" width="15" height="7" rx="1.5" fill="#1a1a1a"/>
<rect x="821" y="548.5" width="12" height="1.6" fill="#777"/>
<rect x="834" y="548" width="8" height="4" fill="#9a9a9a" stroke="#444" stroke-width="0.7"/>
<rect x="841.5" y="544.7" width="5.8" height="9.7" rx="1.5" fill="#8a8a8a" stroke="#444" stroke-width="0.8"/>
<rect x="810.5" y="560.2" width="34.2" height="9" rx="2" fill="url(#comp)" stroke="#333" stroke-width="1"/>
<path d="M812.4 569.2 L842.2 569.2 L840.5 600 C839.5 610 834 613.8 829 613.8 C822 613.8 816 610 814.5 600 Z" fill="url(#bowl)" stroke="#444" stroke-width="1"/>
<path d="M829.2 569.5 L829.2 613" stroke="#555" stroke-width="1"/>
<path d="M814 597 C818 596 824 599 829 598 L829 613.5 C822 613.5 816.5 610 815 602 Z" fill="#2a6cc8"/>
<path d="M823 611 L829.5 613.5 L830 621.5 L838.3 623.5 L838.3 627 L826 627 L825 617 Z" fill="#2a6cc8"/>
</svg></body></html>
